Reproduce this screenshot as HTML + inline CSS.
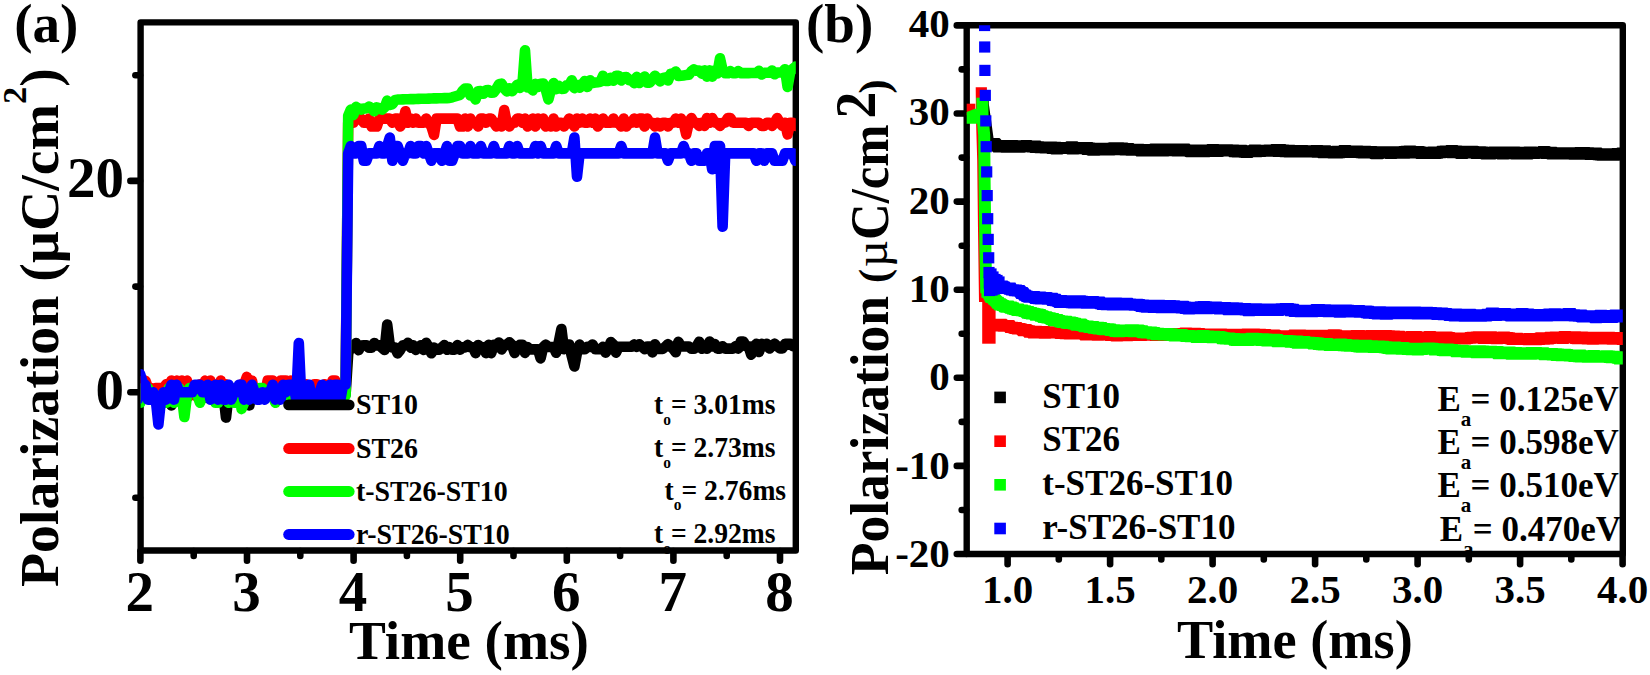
<!DOCTYPE html><html><head><meta charset="utf-8"><title>Polarization vs time</title>
<style>html,body{margin:0;padding:0;background:#fff}svg{display:block}text{font-family:'Liberation Serif',serif;font-weight:bold;fill:#000}</style></head><body>
<svg width="1650" height="675" viewBox="0 0 1650 675">
<rect width="1650" height="675" fill="#fff"/>
<defs><clipPath id="ca"><rect x="140.6" y="22.4" width="655.1999999999999" height="528.1"/></clipPath>
<clipPath id="cb"><rect x="966.7" y="25.3" width="656.0999999999999" height="528.7"/></clipPath></defs>
<rect x="140.6" y="22.4" width="655.2" height="528.1" fill="none" stroke="#000" stroke-width="6.4" stroke-linejoin="round"/>
<line x1="140" y1="392.2" x2="130.4" y2="392.2" stroke="#000" stroke-width="6.6" stroke-linecap="round"/>
<line x1="140" y1="180.9" x2="130.4" y2="180.9" stroke="#000" stroke-width="6.6" stroke-linecap="round"/>
<line x1="140" y1="497.8" x2="135.4" y2="497.8" stroke="#000" stroke-width="6.6" stroke-linecap="round"/>
<line x1="140" y1="286.6" x2="135.4" y2="286.6" stroke="#000" stroke-width="6.6" stroke-linecap="round"/>
<line x1="140" y1="75.2" x2="135.4" y2="75.2" stroke="#000" stroke-width="6.6" stroke-linecap="round"/>
<line x1="140.4" y1="551.1" x2="140.4" y2="560.7" stroke="#000" stroke-width="6.6" stroke-linecap="round"/>
<line x1="247" y1="551.1" x2="247" y2="560.7" stroke="#000" stroke-width="6.6" stroke-linecap="round"/>
<line x1="353.6" y1="551.1" x2="353.6" y2="560.7" stroke="#000" stroke-width="6.6" stroke-linecap="round"/>
<line x1="460.2" y1="551.1" x2="460.2" y2="560.7" stroke="#000" stroke-width="6.6" stroke-linecap="round"/>
<line x1="566.8" y1="551.1" x2="566.8" y2="560.7" stroke="#000" stroke-width="6.6" stroke-linecap="round"/>
<line x1="673.4" y1="551.1" x2="673.4" y2="560.7" stroke="#000" stroke-width="6.6" stroke-linecap="round"/>
<line x1="780" y1="551.1" x2="780" y2="560.7" stroke="#000" stroke-width="6.6" stroke-linecap="round"/>
<line x1="193.7" y1="551.1" x2="193.7" y2="556" stroke="#000" stroke-width="6.6" stroke-linecap="round"/>
<line x1="300.3" y1="551.1" x2="300.3" y2="556" stroke="#000" stroke-width="6.6" stroke-linecap="round"/>
<line x1="406.9" y1="551.1" x2="406.9" y2="556" stroke="#000" stroke-width="6.6" stroke-linecap="round"/>
<line x1="513.5" y1="551.1" x2="513.5" y2="556" stroke="#000" stroke-width="6.6" stroke-linecap="round"/>
<line x1="620.1" y1="551.1" x2="620.1" y2="556" stroke="#000" stroke-width="6.6" stroke-linecap="round"/>
<line x1="726.7" y1="551.1" x2="726.7" y2="556" stroke="#000" stroke-width="6.6" stroke-linecap="round"/>
<g clip-path="url(#ca)">
<polyline points="137.6,390.6 140.2,398 142.8,398 145.4,394.3 148,394.3 150.6,398 153.2,394.3 155.8,398 158.4,398 161,394.3 163.6,394.3 166.2,394.3 168.8,394.3 171.4,405.4 174,390.6 176.6,390.6 179.2,398 181.8,398 184.4,390.6 187,398 189.6,394.3 192.2,394.3 194.8,390.6 197.4,394.3 200,394.3 202.6,390.6 205.2,394.3 207.8,398 210.4,390.6 213,390.6 215.6,394.3 218.2,394.3 220.8,394.3 223.4,394.3 226,417.6 228.6,394.3 231.2,394.3 233.8,394.3 236.4,398 239,394.3 241.6,394.3 244.2,398 246.8,390.6 249.4,405.4 252,390.6 254.6,390.6 257.2,394.3 259.8,390.6 262.4,390.6 265,398 267.6,394.3 270.2,390.6 272.8,394.3 275.4,394.3 278,394.3 280.6,394.3 283.2,398 285.8,394.3 288.4,398 291,390.6 293.6,390.6 296.2,390.6 298.8,390.6 301.4,394.3 304,394.3 306.6,394.3 309.2,394.3 311.8,394.3 314.4,398 317,394.3 319.6,390.6 322.2,394.3 324.8,398 327.4,390.6 330,394.3 332.6,398 335.2,398 337.8,398 340.4,390.6 343,394.3 345.6,394.3 348.2,353.6 350.8,345.5 353.4,347.8 356,343 358.6,350.1 361.2,345.5 363.8,345.4 366.4,345.4 369,347.8 371.6,347.7 374.2,343 376.8,345.4 379.4,345.4 382,347.7 384.6,350 387.2,324.6 389.8,345.3 392.4,347.7 395,347.6 397.6,353.4 400.2,350 402.8,345.3 405.4,345.3 408,342.8 410.6,347.6 413.2,345.3 415.8,349.9 418.4,347.6 421,345.2 423.6,349.9 426.2,342.8 428.8,347.5 431.4,353.3 434,347.5 436.6,349.8 439.2,349.8 441.8,347.5 444.4,345.1 447,349.8 449.6,347.4 452.2,349.7 454.8,349.7 457.4,345.1 460,349.7 462.6,347.4 465.2,347.4 467.8,345 470.4,347.3 473,347.3 475.6,353.1 478.2,345 480.8,347.3 483.4,347.3 486,353.1 488.6,344.9 491.2,353.1 493.8,344.9 496.4,344.9 499,342.5 501.6,349.5 504.2,344.9 506.8,344.9 509.4,342.4 512,344.9 514.6,353 517.2,347.2 519.8,344.8 522.4,344.8 525,352.9 527.6,347.1 530.2,349.4 532.8,349.4 535.4,349.4 538,349.4 540.6,358.4 543.2,347.1 545.8,344.7 548.4,347 551,347 553.6,347 556.2,352.8 558.8,342 561.4,329 564,349.3 566.6,344.6 569.2,344.6 571.8,356.3 574.4,366.5 577,352.7 579.6,344.6 582.2,349.2 584.8,349.2 587.4,346.9 590,346.9 592.6,344.5 595.2,349.2 597.8,349.2 600.4,349.2 603,346.8 605.6,352.6 608.2,349.1 610.8,342 613.4,344.5 616,352.6 618.6,346.8 621.2,346.7 623.8,346.7 626.4,346.7 629,346.7 631.6,346.7 634.2,344.4 636.8,346.7 639.4,344.3 642,346.7 644.6,349 647.2,346.6 649.8,346.6 652.4,352.4 655,344.3 657.6,348.9 660.2,348.9 662.8,348.9 665.4,346.6 668,344.2 670.6,346.5 673.2,348.9 675.8,352.3 678.4,341.8 681,346.5 683.6,346.5 686.2,346.5 688.8,346.5 691.4,348.8 694,348.8 696.6,346.4 699.2,341.7 701.8,348.7 704.4,346.4 707,348.7 709.6,341.6 712.2,346.4 714.8,344 717.4,348.7 720,348.7 722.6,346.3 725.2,348.7 727.8,348.6 730.4,348.6 733,348.6 735.6,346.3 738.2,348.6 740.8,341.5 743.4,341.5 746,346.2 748.6,346.2 751.2,354.7 753.8,346.2 756.4,343.9 759,352 761.6,343.9 764.2,346.2 766.8,343.8 769.4,348.5 772,346.1 774.6,343.8 777.2,346.1 779.8,348.4 782.4,348.4 785,343.8 787.6,343.8 790.2,343.7 792.8,346.1 795.4,346 798,346" fill="none" stroke="#000" stroke-width="10.6" stroke-linejoin="round" stroke-linecap="round" />
<polyline points="137.6,380.6 140.2,388 142.8,395.4 145.4,380.6 148,388 150.6,388 153.2,395.4 155.8,388 158.4,388 161,388 163.6,388 166.2,384.3 168.8,388 171.4,380.6 174,384.3 176.6,380.6 179.2,388 181.8,380.6 184.4,384.3 187,380.6 189.6,395.4 192.2,388 194.8,395.4 197.4,395.4 200,384.3 202.6,395.4 205.2,380.6 207.8,388 210.4,380.6 213,395.4 215.6,388 218.2,388 220.8,380.6 223.4,395.4 226,384.3 228.6,388 231.2,388 233.8,395.4 236.4,395.4 239,395.4 241.6,384.3 244.2,384.3 246.8,376.9 249.4,395.4 252,380.6 254.6,395.4 257.2,388 259.8,395.4 262.4,395.4 265,395.4 267.6,380.6 270.2,380.6 272.8,380.6 275.4,388 278,384.3 280.6,380.6 283.2,380.6 285.8,380.6 288.4,395.4 291,380.6 293.6,384.3 296.2,384.3 298.8,380.6 301.4,388 304,395.4 306.6,384.3 309.2,388 311.8,395.4 314.4,384.3 317,384.3 319.6,388 322.2,388 324.8,384.3 327.4,388 330,388 332.6,380.6 335.2,380.6 337.8,395.4 340.4,388 343,384.3 345.6,388 348.2,122.8 350.8,118.6 353.4,122.8 356,118.6 358.6,118.6 361.2,118.6 363.8,122.8 366.4,122.8 369,118.6 371.6,126.5 374.2,126.5 376.8,126.5 379.4,118.6 382,118.6 384.6,118.6 387.2,118.6 389.8,118.6 392.4,122.8 395,118.6 397.6,118.6 400.2,126.5 402.8,122.8 405.4,111.2 408,122.8 410.6,118.6 413.2,122.8 415.8,118.6 418.4,122.8 421,122.8 423.6,122.8 426.2,118.6 428.8,122.8 431.4,126.5 434,134.9 436.6,118.6 439.2,118.6 441.8,118.6 444.4,118.6 447,118.6 449.6,118.6 452.2,118.6 454.8,118.6 457.4,118.6 460,126.5 462.6,126.5 465.2,118.6 467.8,126.5 470.4,118.6 473,122.8 475.6,122.8 478.2,126.5 480.8,118.6 483.4,118.6 486,122.8 488.6,118.6 491.2,118.6 493.8,122.8 496.4,126.5 499,122.8 501.6,126.5 504.2,110.1 506.8,122.8 509.4,126.5 512,122.8 514.6,122.8 517.2,118.6 519.8,118.6 522.4,122.8 525,118.6 527.6,126.5 530.2,122.8 532.8,118.6 535.4,126.5 538,118.6 540.6,122.8 543.2,118.6 545.8,126.5 548.4,122.8 551,126.5 553.6,118.6 556.2,126.5 558.8,122.8 561.4,122.8 564,126.5 566.6,122.8 569.2,118.6 571.8,122.8 574.4,126.5 577,118.6 579.6,122.8 582.2,118.6 584.8,122.8 587.4,122.8 590,118.6 592.6,122.8 595.2,118.6 597.8,126.5 600.4,122.8 603,118.6 605.6,122.8 608.2,122.8 610.8,122.8 613.4,118.6 616,122.8 618.6,122.8 621.2,126.5 623.8,118.6 626.4,126.5 629,122.8 631.6,122.8 634.2,118.6 636.8,122.8 639.4,118.6 642,118.6 644.6,126.5 647.2,118.6 649.8,122.8 652.4,122.8 655,126.5 657.6,122.8 660.2,126.5 662.8,122.8 665.4,122.8 668,126.5 670.6,122.8 673.2,122.8 675.8,118.6 678.4,122.8 681,118.6 683.6,122.8 686.2,134.4 688.8,122.8 691.4,118 694,122.8 696.6,122.8 699.2,126 701.8,122.8 704.4,126 707,118 709.6,122.8 712.2,118 714.8,122.8 717.4,122.8 720,126 722.6,122.8 725.2,122.8 727.8,118 730.4,118 733,122.8 735.6,122.8 738.2,122.8 740.8,122.8 743.4,122.8 746,122.8 748.6,126 751.2,122.8 753.8,122.8 756.4,122.8 759,122.8 761.6,126 764.2,126 766.8,122.8 769.4,122.8 772,126 774.6,122.8 777.2,118 779.8,122.8 782.4,126 785,122.8 787.6,134.4 790.2,122.8 792.8,122.8 795.4,126 798,126" fill="none" stroke="#f00" stroke-width="10.6" stroke-linejoin="round" stroke-linecap="round" />
<polyline points="137.6,388 140.2,402.8 142.8,388 145.4,395.4 148,388 150.6,395.4 153.2,395.4 155.8,402.8 158.4,402.8 161,395.4 163.6,402.8 166.2,402.8 168.8,388 171.4,395.4 174,402.8 176.6,395.4 179.2,388 181.8,395.4 184.4,417 187,395.4 189.6,388 192.2,388 194.8,388 197.4,395.4 200,402.8 202.6,395.4 205.2,395.4 207.8,395.4 210.4,395.4 213,388 215.6,402.8 218.2,402.8 220.8,395.4 223.4,395.4 226,395.4 228.6,402.8 231.2,388 233.8,402.8 236.4,402.8 239,388 241.6,409.1 244.2,402.8 246.8,395.4 249.4,395.4 252,388 254.6,388 257.2,395.4 259.8,388 262.4,388 265,395.4 267.6,395.4 270.2,395.4 272.8,395.4 275.4,402.8 278,395.4 280.6,395.4 283.2,395.4 285.8,388 288.4,395.4 291,388 293.6,395.4 296.2,395.4 298.8,402.8 301.4,395.4 304,388 306.6,388 309.2,388 311.8,402.8 314.4,395.4 317,402.8 319.6,402.8 322.2,402.8 324.8,395.4 327.4,402.8 330,388 332.6,402.8 335.2,395.4 337.8,402.8 340.4,402.8 343,395.4 345.6,395.4 348.2,115.8 350.8,109.6 353.4,114.9 356,106.9 358.6,108.5 361.2,109.6 363.8,108.5 366.4,108.4 369,106.7 371.6,108.2 374.2,111.2 376.8,107.4 379.4,108.5 382,109.6 384.6,107.5 387.2,100.6 389.8,104.9 392.4,104.1 395,100.2 397.6,99.5 400.2,99.5 402.8,99.4 405.4,99.3 408,99.2 410.6,99.1 413.2,99.1 415.8,99 418.4,98.9 421,98.8 423.6,98.8 426.2,98.7 428.8,98.6 431.4,98.5 434,98.4 436.6,98.4 439.2,98.3 441.8,98.2 444.4,98.1 447,98.1 449.6,98 452.2,97.3 454.8,96.5 457.4,95.7 460,94.9 462.6,90.9 465.2,88.5 467.8,88.5 470.4,95.4 473,95.1 475.6,99.5 478.2,91.3 480.8,91 483.4,93.8 486,90.3 488.6,90 491.2,92.8 493.8,92.4 496.4,88.9 499,84.2 501.6,83.7 504.2,88.3 506.8,91.4 509.4,88.2 512,91.3 514.6,88.1 517.2,84.8 519.8,87.9 522.4,84.6 525,50.4 527.6,87.5 530.2,87.4 532.8,90.4 535.4,83.9 538,87 540.6,83.7 543.2,83.5 545.8,89.7 548.4,99.5 551,89.5 553.6,83 556.2,89.2 558.8,85.9 561.4,88.9 564,88.7 566.6,85.4 569.2,85.2 571.8,80.3 574.4,88.1 577,84.7 579.6,87.7 582.2,84.4 584.8,81.1 587.4,87 590,80.3 592.6,83 595.2,82.6 597.8,82.2 600.4,81.8 603,75.8 605.6,81 608.2,80.9 610.8,77.7 613.4,80.8 616,75.8 618.6,75.8 621.2,80.5 623.8,77.2 626.4,77.1 629,80.2 631.6,80.1 634.2,83.2 636.8,76.8 639.4,83 642,79.8 644.6,76.5 647.2,82.7 649.8,82.7 652.4,79.2 655,75.7 657.6,78.6 660.2,81.4 662.8,77.9 665.4,77.6 668,80.5 670.6,73.8 673.2,73.5 675.8,71.6 678.4,76 681,75.7 683.6,75.4 686.2,75.1 688.8,74.8 691.4,71.3 694,69.4 696.6,70.7 699.2,70.5 701.8,73.6 704.4,70.4 707,76.7 709.6,70.4 712.2,76.7 714.8,70.3 717.4,73.4 720,58.3 722.6,70.2 725.2,73.3 727.8,73.3 730.4,71.2 733,73.2 735.6,73.2 738.2,71.1 740.8,73.2 743.4,73.1 746,73.1 748.6,73.1 751.2,73 753.8,73 756.4,73 759,70.8 761.6,74.5 764.2,72.8 766.8,72.8 769.4,72.7 772,70.5 774.6,74.2 777.2,72.5 779.8,72.5 782.4,72.4 785,69.2 787.6,86.9 790.2,72.2 792.8,68.9 795.4,66.8 798,68.9" fill="none" stroke="#0f0" stroke-width="10.6" stroke-linejoin="round" stroke-linecap="round" />
<polyline points="137.6,399.6 140.2,374.2 142.8,382.7 145.4,384.8 148,399.6 150.6,399.6 153.2,392.2 155.8,399.6 158.4,424.4 161,399.6 163.6,392.2 166.2,399.6 168.8,392.2 171.4,384.8 174,399.6 176.6,384.8 179.2,392.2 181.8,392.2 184.4,392.2 187,392.2 189.6,392.2 192.2,392.2 194.8,384.8 197.4,384.8 200,384.8 202.6,392.2 205.2,392.2 207.8,384.8 210.4,399.6 213,392.2 215.6,384.8 218.2,399.6 220.8,384.8 223.4,399.6 226,399.6 228.6,384.8 231.2,399.6 233.8,392.2 236.4,392.2 239,384.8 241.6,384.8 244.2,399.6 246.8,392.2 249.4,399.6 252,384.8 254.6,392.2 257.2,399.6 259.8,399.6 262.4,392.2 265,399.6 267.6,392.2 270.2,392.2 272.8,384.8 275.4,399.6 278,392.2 280.6,399.6 283.2,384.8 285.8,392.2 288.4,384.8 291,384.8 293.6,384.8 296.2,399.6 298.8,343.1 301.4,399.6 304,392.2 306.6,399.6 309.2,384.8 311.8,399.6 314.4,399.6 317,399.6 319.6,392.2 322.2,384.8 324.8,399.6 327.4,399.6 330,384.8 332.6,399.6 335.2,384.8 337.8,384.8 340.4,399.6 343,384.8 345.6,384.8 348.2,153.4 350.8,146 353.4,153.4 356,153.4 358.6,146 361.2,146 363.8,160.8 366.4,160.8 369,153.4 371.6,153.4 374.2,153.4 376.8,153.4 379.4,146 382,153.4 384.6,153.4 387.2,146 389.8,137.6 392.4,160.8 395,146 397.6,146 400.2,153.4 402.8,160.8 405.4,153.4 408,153.4 410.6,146 413.2,153.4 415.8,153.4 418.4,146 421,146 423.6,153.4 426.2,146 428.8,153.4 431.4,160.8 434,153.4 436.6,153.4 439.2,153.4 441.8,160.8 444.4,153.4 447,146 449.6,160.8 452.2,160.8 454.8,153.4 457.4,146 460,146 462.6,153.4 465.2,153.4 467.8,153.4 470.4,146 473,153.4 475.6,153.4 478.2,153.4 480.8,146 483.4,153.4 486,153.4 488.6,153.4 491.2,153.4 493.8,146 496.4,153.4 499,153.4 501.6,153.4 504.2,153.4 506.8,153.4 509.4,146 512,153.4 514.6,153.4 517.2,146 519.8,153.4 522.4,153.4 525,153.4 527.6,153.4 530.2,153.4 532.8,153.4 535.4,146 538,153.4 540.6,146 543.2,153.4 545.8,153.4 548.4,153.4 551,153.4 553.6,153.4 556.2,146 558.8,153.4 561.4,153.4 564,153.4 566.6,153.4 569.2,153.4 571.8,153.4 574.4,137.6 577,176.7 579.6,153.4 582.2,153.4 584.8,153.4 587.4,153.4 590,153.4 592.6,153.4 595.2,153.4 597.8,153.4 600.4,153.4 603,153.4 605.6,153.4 608.2,153.4 610.8,153.4 613.4,153.4 616,153.4 618.6,153.4 621.2,146 623.8,153.4 626.4,153.4 629,153.4 631.6,153.4 634.2,153.4 636.8,153.4 639.4,153.4 642,153.4 644.6,153.4 647.2,153.4 649.8,153.4 652.4,153.4 655,137.6 657.6,153.4 660.2,153.4 662.8,153.4 665.4,153.4 668,160.8 670.6,153.4 673.2,153.4 675.8,153.4 678.4,153.4 681,153.4 683.6,146 686.2,153.4 688.8,153.4 691.4,160.8 694,153.4 696.6,153.4 699.2,160.8 701.8,160.8 704.4,160.8 707,153.4 709.6,153.4 712.2,169.3 714.8,146 717.4,146 720,146 722.6,226.8 725.2,153.4 727.8,153.4 730.4,153.4 733,153.4 735.6,153.4 738.2,153.4 740.8,153.4 743.4,153.4 746,153.4 748.6,153.4 751.2,153.4 753.8,153.4 756.4,160.8 759,153.4 761.6,153.4 764.2,160.8 766.8,153.4 769.4,153.4 772,153.4 774.6,160.8 777.2,160.8 779.8,160.8 782.4,160.8 785,153.4 787.6,153.4 790.2,153.4 792.8,153.4 795.4,160.8 798,153.4" fill="none" stroke="#00f" stroke-width="10.6" stroke-linejoin="round" stroke-linecap="round" />
</g>
<line x1="288.6" y1="404.9" x2="349.2" y2="404.9" stroke="#000" stroke-width="10.8" stroke-linecap="round"/>
<line x1="288.6" y1="448.5" x2="349.2" y2="448.5" stroke="#f00" stroke-width="10.8" stroke-linecap="round"/>
<line x1="288.6" y1="491.5" x2="349.2" y2="491.5" stroke="#0f0" stroke-width="10.8" stroke-linecap="round"/>
<line x1="288.6" y1="534.5" x2="349.2" y2="534.5" stroke="#00f" stroke-width="10.8" stroke-linecap="round"/>
<text transform="translate(355.9,414.4) scale(0.952,1)" font-size="29.3" text-anchor="start" >ST10</text>
<text transform="translate(355.9,457.8) scale(0.952,1)" font-size="29.3" text-anchor="start" >ST26</text>
<text transform="translate(355.9,500.8) scale(0.952,1)" font-size="29.3" text-anchor="start" >t-ST26-ST10</text>
<text transform="translate(355.9,544) scale(0.952,1)" font-size="29.3" text-anchor="start" >r-ST26-ST10</text>
<text transform="translate(654,414) scale(0.962,1)" font-size="28.7">t<tspan font-size="16" dy="10.5">o</tspan><tspan dy="-10.5">= 3.01ms</tspan></text>
<text transform="translate(654,457) scale(0.962,1)" font-size="28.7">t<tspan font-size="16" dy="10.5">o</tspan><tspan dy="-10.5">= 2.73ms</tspan></text>
<text transform="translate(664.6,499.9) scale(0.962,1)" font-size="28.7">t<tspan font-size="16" dy="10.5">o</tspan><tspan dy="-10.5">= 2.76ms</tspan></text>
<text transform="translate(654,543.2) scale(0.962,1)" font-size="28.7">t<tspan font-size="16" dy="10.5">o</tspan><tspan dy="-10.5">= 2.92ms</tspan></text>
<text x="139.8" y="611.4" font-size="57.0" text-anchor="middle" >2</text>
<text x="246.4" y="611.4" font-size="57.0" text-anchor="middle" >3</text>
<text x="353" y="611.4" font-size="57.0" text-anchor="middle" >4</text>
<text x="459.6" y="611.4" font-size="57.0" text-anchor="middle" >5</text>
<text x="566.2" y="611.4" font-size="57.0" text-anchor="middle" >6</text>
<text x="672.8" y="611.4" font-size="57.0" text-anchor="middle" >7</text>
<text x="779.4" y="611.4" font-size="57.0" text-anchor="middle" >8</text>
<text x="124" y="196.9" font-size="57.0" text-anchor="end" >20</text>
<text x="124" y="408.6" font-size="57.0" text-anchor="end" >0</text>
<text x="348.9" y="659" font-size="55.3" text-anchor="start" >Time (ms)</text>
<text x="14.3" y="42.1" font-size="55" text-anchor="start" >(a)</text>
<text transform="translate(58.4,587.1) rotate(-90)" font-size="55.8">Polarization (µC/cm<tspan font-size="34.5" dy="-32">2</tspan><tspan dy="32">)</tspan></text>
<rect x="966.7" y="25.3" width="656.1" height="528.7" fill="none" stroke="#000" stroke-width="6.4" stroke-linejoin="round"/>
<line x1="966.1" y1="554" x2="956.8" y2="554" stroke="#000" stroke-width="6.6" stroke-linecap="round"/>
<line x1="966.1" y1="465.9" x2="956.8" y2="465.9" stroke="#000" stroke-width="6.6" stroke-linecap="round"/>
<line x1="966.1" y1="377.8" x2="956.8" y2="377.8" stroke="#000" stroke-width="6.6" stroke-linecap="round"/>
<line x1="966.1" y1="289.7" x2="956.8" y2="289.7" stroke="#000" stroke-width="6.6" stroke-linecap="round"/>
<line x1="966.1" y1="201.6" x2="956.8" y2="201.6" stroke="#000" stroke-width="6.6" stroke-linecap="round"/>
<line x1="966.1" y1="113.5" x2="956.8" y2="113.5" stroke="#000" stroke-width="6.6" stroke-linecap="round"/>
<line x1="966.1" y1="25.4" x2="956.8" y2="25.4" stroke="#000" stroke-width="6.6" stroke-linecap="round"/>
<line x1="966.1" y1="510" x2="961.7" y2="510" stroke="#000" stroke-width="6.6" stroke-linecap="round"/>
<line x1="966.1" y1="421.9" x2="961.7" y2="421.9" stroke="#000" stroke-width="6.6" stroke-linecap="round"/>
<line x1="966.1" y1="333.8" x2="961.7" y2="333.8" stroke="#000" stroke-width="6.6" stroke-linecap="round"/>
<line x1="966.1" y1="245.7" x2="961.7" y2="245.7" stroke="#000" stroke-width="6.6" stroke-linecap="round"/>
<line x1="966.1" y1="157.6" x2="961.7" y2="157.6" stroke="#000" stroke-width="6.6" stroke-linecap="round"/>
<line x1="966.1" y1="69.4" x2="961.7" y2="69.4" stroke="#000" stroke-width="6.6" stroke-linecap="round"/>
<line x1="1007.6" y1="554.6" x2="1007.6" y2="564.2" stroke="#000" stroke-width="6.6" stroke-linecap="round"/>
<line x1="1110.1" y1="554.6" x2="1110.1" y2="564.2" stroke="#000" stroke-width="6.6" stroke-linecap="round"/>
<line x1="1212.6" y1="554.6" x2="1212.6" y2="564.2" stroke="#000" stroke-width="6.6" stroke-linecap="round"/>
<line x1="1315.1" y1="554.6" x2="1315.1" y2="564.2" stroke="#000" stroke-width="6.6" stroke-linecap="round"/>
<line x1="1417.6" y1="554.6" x2="1417.6" y2="564.2" stroke="#000" stroke-width="6.6" stroke-linecap="round"/>
<line x1="1520.1" y1="554.6" x2="1520.1" y2="564.2" stroke="#000" stroke-width="6.6" stroke-linecap="round"/>
<line x1="1622.6" y1="554.6" x2="1622.6" y2="564.2" stroke="#000" stroke-width="6.6" stroke-linecap="round"/>
<line x1="1058.8" y1="554.6" x2="1058.8" y2="559.4" stroke="#000" stroke-width="6.6" stroke-linecap="round"/>
<line x1="1161.3" y1="554.6" x2="1161.3" y2="559.4" stroke="#000" stroke-width="6.6" stroke-linecap="round"/>
<line x1="1263.8" y1="554.6" x2="1263.8" y2="559.4" stroke="#000" stroke-width="6.6" stroke-linecap="round"/>
<line x1="1366.3" y1="554.6" x2="1366.3" y2="559.4" stroke="#000" stroke-width="6.6" stroke-linecap="round"/>
<line x1="1468.8" y1="554.6" x2="1468.8" y2="559.4" stroke="#000" stroke-width="6.6" stroke-linecap="round"/>
<line x1="1571.3" y1="554.6" x2="1571.3" y2="559.4" stroke="#000" stroke-width="6.6" stroke-linecap="round"/>
<g clip-path="url(#cb)">
<polyline points="983.2,100 983.2,104 988.3,141 988.6,148" fill="none" stroke="#000" stroke-width="11.2" stroke-linejoin="miter"/>
<polygon points="987.4,138.3 988.4,138.3 989.4,137.9 990.4,137.9 991.4,137.9 992.4,137.9 993.4,137.9 994.4,137.9 995.4,137.9 996.4,137.9 997.4,137.9 998.4,137.9 999.4,137.9 1000.4,138.8 1001.4,140 1002.4,140 1003.4,140 1004.4,140 1005.4,140 1006.4,140 1007.4,140 1008.4,140 1009.4,140 1010.4,140 1011.4,140 1012.4,140 1013.4,140 1014.4,140 1015.4,140 1016.4,140 1017.4,140 1018.4,140.2 1019.4,140.2 1020.4,140.2 1021.4,140 1022.4,140 1023.4,140 1024.4,140 1025.4,140 1026.4,140 1027.4,140 1028.4,140 1029.4,140 1030.4,140 1031.4,140 1032.4,140.6 1033.4,140.6 1034.4,140.6 1035.4,140.6 1036.4,140.6 1037.4,140.6 1038.4,140.6 1039.4,140.6 1040.4,140.6 1041.4,141.2 1042.4,141.2 1043.4,141.2 1044.4,141.4 1045.4,141.4 1046.4,141.4 1047.4,141.4 1048.4,141.4 1049.4,141.4 1050.4,141.4 1051.4,141.4 1052.4,141.4 1053.4,141.4 1054.4,141.4 1055.4,141.4 1056.4,141.4 1057.4,141.8 1058.4,141.8 1059.4,141.8 1060.4,141.8 1061.4,141.9 1062.4,141.9 1063.4,141.9 1064.4,142 1065.4,142 1066.4,141.3 1067.4,141.3 1068.4,141.3 1069.4,141.3 1070.4,141.3 1071.4,141.3 1072.4,141.3 1073.4,141.3 1074.4,141.3 1075.4,141.3 1076.4,141.3 1077.4,141.3 1078.4,141.9 1079.4,141.9 1080.4,141.9 1081.4,141.9 1082.4,141.9 1083.4,141.9 1084.4,141.9 1085.4,141.9 1086.4,141.9 1087.4,141.9 1088.4,141.9 1089.4,141.9 1090.4,142 1091.4,142 1092.4,142 1093.4,142.6 1094.4,142.6 1095.4,142.7 1096.4,142.7 1097.4,142.7 1098.4,142.8 1099.4,142.8 1100.4,142.8 1101.4,142.8 1102.4,142.8 1103.4,142.8 1104.4,142.7 1105.4,142.7 1106.4,142.7 1107.4,142.7 1108.4,142.5 1109.4,142.3 1110.4,142.3 1111.4,142.3 1112.4,142.3 1113.4,142.3 1114.4,142.3 1115.4,142.3 1116.4,142.3 1117.4,142.3 1118.4,142.3 1119.4,142.3 1120.4,142.3 1121.4,142.3 1122.4,142.3 1123.4,142.3 1124.4,142.5 1125.4,142.5 1126.4,142.5 1127.4,142.5 1128.4,143 1129.4,143 1130.4,143.1 1131.4,143.1 1132.4,143.1 1133.4,143.1 1134.4,143.8 1135.4,143.8 1136.4,143.8 1137.4,143.8 1138.4,143.8 1139.4,143.8 1140.4,143.8 1141.4,143.8 1142.4,143.8 1143.4,143.8 1144.4,143.9 1145.4,143.9 1146.4,143.9 1147.4,143.9 1148.4,143.9 1149.4,143.9 1150.4,143.6 1151.4,143.6 1152.4,143.6 1153.4,143.6 1154.4,143.6 1155.4,143.6 1156.4,143.6 1157.4,143.6 1158.4,143.6 1159.4,143.6 1160.4,143.6 1161.4,143.6 1162.4,143.6 1163.4,143.6 1164.4,143.6 1165.4,143.6 1166.4,143.6 1167.4,143.6 1168.4,143.6 1169.4,143.6 1170.4,143.6 1171.4,143.6 1172.4,143.6 1173.4,143.6 1174.4,143.6 1175.4,143.6 1176.4,143.4 1177.4,143.4 1178.4,143.4 1179.4,143.4 1180.4,143.4 1181.4,143.4 1182.4,143.4 1183.4,143.4 1184.4,143.4 1185.4,143.4 1186.4,143.4 1187.4,143.4 1188.4,143.4 1189.4,143.4 1190.4,144.4 1191.4,144.4 1192.4,144.4 1193.4,144.5 1194.4,144.5 1195.4,144.5 1196.4,144.5 1197.4,144.5 1198.4,144.5 1199.4,144.5 1200.4,144.5 1201.4,144.5 1202.4,144.5 1203.4,144.5 1204.4,144.6 1205.4,144.6 1206.4,144.6 1207.4,144.1 1208.4,144.1 1209.4,144.1 1210.4,144.1 1211.4,144.1 1212.4,144.1 1213.4,144.1 1214.4,144.1 1215.4,144.1 1216.4,144.1 1217.4,144.1 1218.4,144.1 1219.4,144.2 1220.4,144.2 1221.4,144.2 1222.4,144.2 1223.4,144.2 1224.4,144.2 1225.4,144.2 1226.4,144.2 1227.4,144.2 1228.4,144.2 1229.4,144.2 1230.4,144.2 1231.4,144.2 1232.4,144.2 1233.4,144.5 1234.4,144.5 1235.4,144.5 1236.4,144.5 1237.4,144.5 1238.4,144.5 1239.4,144.7 1240.4,144.7 1241.4,144.7 1242.4,144.7 1243.4,144.7 1244.4,144.7 1245.4,144.7 1246.4,144.7 1247.4,145.2 1248.4,145.2 1249.4,144.6 1250.4,144.6 1251.4,144.6 1252.4,144.6 1253.4,144.6 1254.4,144.6 1255.4,144.6 1256.4,144.6 1257.4,144.6 1258.4,144.6 1259.4,144.6 1260.4,144.6 1261.4,144.7 1262.4,144.7 1263.4,144.7 1264.4,144.6 1265.4,144.6 1266.4,144.6 1267.4,144.4 1268.4,144.4 1269.4,144.4 1270.4,144.4 1271.4,144 1272.4,144 1273.4,144 1274.4,144 1275.4,144 1276.4,144 1277.4,144 1278.4,144 1279.4,144 1280.4,144 1281.4,144 1282.4,144 1283.4,144.1 1284.4,144.1 1285.4,144.1 1286.4,144.5 1287.4,144.5 1288.4,144.5 1289.4,144.8 1290.4,144.8 1291.4,144.8 1292.4,144.8 1293.4,144.8 1294.4,144.8 1295.4,145.1 1296.4,145.1 1297.4,145.1 1298.4,145.1 1299.4,145.1 1300.4,145.1 1301.4,145.1 1302.4,145.1 1303.4,145.1 1304.4,145.1 1305.4,145.1 1306.4,145.1 1307.4,145.1 1308.4,145.2 1309.4,145.2 1310.4,145.2 1311.4,145 1312.4,145 1313.4,145 1314.4,145 1315.4,145 1316.4,145 1317.4,145 1318.4,145 1319.4,145 1320.4,145 1321.4,145 1322.4,145 1323.4,145.3 1324.4,145.3 1325.4,145.3 1326.4,145.3 1327.4,145.3 1328.4,145.3 1329.4,145.3 1330.4,145.3 1331.4,146 1332.4,145.7 1333.4,145.7 1334.4,145.7 1335.4,145.7 1336.4,145.7 1337.4,145.7 1338.4,145.7 1339.4,145.1 1340.4,145.1 1341.4,145.1 1342.4,145.1 1343.4,145.1 1344.4,145.1 1345.4,145.1 1346.4,145.1 1347.4,145.1 1348.4,145.1 1349.4,145.1 1350.4,145.1 1351.4,145.4 1352.4,145.4 1353.4,145.4 1354.4,145.4 1355.4,145.4 1356.4,145.4 1357.4,145.4 1358.4,145.4 1359.4,145.4 1360.4,145.4 1361.4,145.4 1362.4,145.4 1363.4,145.8 1364.4,145.8 1365.4,145.8 1366.4,145.8 1367.4,145.8 1368.4,145.8 1369.4,145.8 1370.4,145.8 1371.4,146 1372.4,146.1 1373.4,146.1 1374.4,146.1 1375.4,146.1 1376.4,146.1 1377.4,146.2 1378.4,146.2 1379.4,146.2 1380.4,146.2 1381.4,146.2 1382.4,146.2 1383.4,146.2 1384.4,146.2 1385.4,146.2 1386.4,146.2 1387.4,146.2 1388.4,146.3 1389.4,146.3 1390.4,146.3 1391.4,146.2 1392.4,146.2 1393.4,146.2 1394.4,146.2 1395.4,146.2 1396.4,146.2 1397.4,146.2 1398.4,146.2 1399.4,145.9 1400.4,145.9 1401.4,145.8 1402.4,145.8 1403.4,145.8 1404.4,145.6 1405.4,145.6 1406.4,145.6 1407.4,145.6 1408.4,145.6 1409.4,145.6 1410.4,145.6 1411.4,145.6 1412.4,145.6 1413.4,145.6 1414.4,145.6 1415.4,145.6 1416.4,146.1 1417.4,146.1 1418.4,146.1 1419.4,146.1 1420.4,146.1 1421.4,146.1 1422.4,146.1 1423.4,146.1 1424.4,146.2 1425.4,146.5 1426.4,146.7 1427.4,146.7 1428.4,146.4 1429.4,146.4 1430.4,146.4 1431.4,146.4 1432.4,146.4 1433.4,146.4 1434.4,146.4 1435.4,146.4 1436.4,146.4 1437.4,145.7 1438.4,145.7 1439.4,145.7 1440.4,145.4 1441.4,145.4 1442.4,145.4 1443.4,145.4 1444.4,145.4 1445.4,145.4 1446.4,145.1 1447.4,145.1 1448.4,145.1 1449.4,145.1 1450.4,145.1 1451.4,145.1 1452.4,145.1 1453.4,145.1 1454.4,145.1 1455.4,145.1 1456.4,145.1 1457.4,145.1 1458.4,145.6 1459.4,145.6 1460.4,145.6 1461.4,145.6 1462.4,145.7 1463.4,145.8 1464.4,145.8 1465.4,145.8 1466.4,145.7 1467.4,145.7 1468.4,145.7 1469.4,145.7 1470.4,145.7 1471.4,145.7 1472.4,145.7 1473.4,145.7 1474.4,145.7 1475.4,145.7 1476.4,145.7 1477.4,145.7 1478.4,146 1479.4,146.2 1480.4,146.2 1481.4,146.2 1482.4,146.2 1483.4,146.2 1484.4,146.2 1485.4,146.2 1486.4,146.4 1487.4,146.4 1488.4,146.7 1489.4,146.6 1490.4,146.6 1491.4,146.6 1492.4,146.6 1493.4,146.6 1494.4,146.6 1495.4,146.6 1496.4,146.6 1497.4,146.6 1498.4,146.6 1499.4,146.6 1500.4,146.6 1501.4,146.6 1502.4,146.6 1503.4,146.6 1504.4,146.6 1505.4,146.6 1506.4,146.6 1507.4,146.6 1508.4,146.6 1509.4,146.6 1510.4,146.6 1511.4,146.6 1512.4,146.6 1513.4,146.6 1514.4,146.6 1515.4,146.6 1516.4,146.6 1517.4,146.6 1518.4,146.6 1519.4,146.6 1520.4,146.7 1521.4,146.7 1522.4,146.7 1523.4,146.7 1524.4,146.4 1525.4,146.4 1526.4,146.4 1527.4,146.4 1528.4,146.4 1529.4,146.4 1530.4,146.4 1531.4,146.4 1532.4,146.4 1533.4,146.4 1534.4,146.4 1535.4,146.4 1536.4,146.5 1537.4,146.7 1538.4,146.1 1539.4,146.1 1540.4,146.1 1541.4,146.1 1542.4,146.1 1543.4,146.1 1544.4,146.1 1545.4,146.1 1546.4,146.1 1547.4,146.1 1548.4,146.1 1549.4,146.1 1550.4,146.4 1551.4,146.8 1552.4,146.8 1553.4,146.8 1554.4,146.8 1555.4,146.8 1556.4,146.8 1557.4,147.2 1558.4,147.2 1559.4,147.2 1560.4,147.2 1561.4,147.2 1562.4,147.2 1563.4,147.2 1564.4,147.2 1565.4,147.2 1566.4,147.2 1567.4,147.2 1568.4,147.2 1569.4,147.2 1570.4,147.2 1571.4,147.2 1572.4,147.2 1573.4,147.2 1574.4,147.2 1575.4,147 1576.4,147 1577.4,147 1578.4,147 1579.4,147 1580.4,147 1581.4,147 1582.4,147 1583.4,147 1584.4,147 1585.4,147 1586.4,147 1587.4,147 1588.4,147 1589.4,147 1590.4,147.2 1591.4,147.2 1592.4,147.2 1593.4,147.2 1594.4,147.6 1595.4,147.6 1596.4,147.6 1597.4,147.6 1598.4,147.6 1599.4,147.6 1600.4,147.6 1601.4,147.6 1602.4,148.2 1603.4,148.2 1604.4,148.2 1605.4,148.2 1606.4,148.2 1607.4,148.2 1608.4,148.3 1609.4,148.2 1610.4,148.2 1611.4,148.2 1612.4,148.1 1613.4,147.9 1614.4,147.9 1615.4,147.9 1616.4,147.9 1617.4,147.6 1618.4,147.6 1619.4,147.6 1620.4,147.5 1621.4,147.5 1622.4,147.5 1623.4,147.5 1624.4,147.5 1625.4,147.5 1626.4,147.5 1627.4,147.5 1628.4,147.5 1629.4,147.5 1630.4,147.5 1631.4,147.5 1632.4,148.4 1633.4,148.6 1634.4,148.6 1634.4,159.8 1633.4,159.8 1632.4,159.8 1631.4,159.8 1630.4,160 1629.4,160 1628.4,160 1627.4,160 1626.4,160 1625.4,160 1624.4,160 1623.4,160 1622.4,160 1621.4,160.3 1620.4,160.3 1619.4,160.7 1618.4,160.7 1617.4,160.7 1616.4,160.7 1615.4,160.7 1614.4,160.7 1613.4,160.7 1612.4,160.7 1611.4,160.7 1610.4,160.7 1609.4,160.7 1608.4,160.7 1607.4,160.7 1606.4,160.7 1605.4,160.7 1604.4,160.7 1603.4,160.7 1602.4,160.7 1601.4,160.7 1600.4,160.7 1599.4,160.7 1598.4,160.7 1597.4,160.7 1596.4,160.4 1595.4,160.4 1594.4,160.3 1593.4,160.3 1592.4,160.1 1591.4,160.1 1590.4,160.1 1589.4,160.1 1588.4,160.1 1587.4,160.1 1586.4,160.1 1585.4,160.1 1584.4,159.8 1583.4,159.8 1582.4,159.8 1581.4,159.8 1580.4,159.8 1579.4,159.8 1578.4,159.8 1577.4,159.8 1576.4,159.8 1575.4,159.7 1574.4,159.7 1573.4,159.7 1572.4,159.7 1571.4,159.7 1570.4,159.7 1569.4,159.7 1568.4,159.5 1567.4,159.5 1566.4,159.5 1565.4,159.5 1564.4,159.5 1563.4,159.5 1562.4,159.5 1561.4,159.5 1560.4,159.5 1559.4,159.5 1558.4,159.5 1557.4,159.5 1556.4,159.5 1555.4,159.5 1554.4,159.5 1553.4,159.5 1552.4,159.5 1551.4,159.4 1550.4,159.4 1549.4,159.4 1548.4,159.4 1547.4,159.4 1546.4,159.1 1545.4,159.1 1544.4,159.1 1543.4,159.1 1542.4,159.1 1541.4,159.1 1540.4,158.8 1539.4,159 1538.4,159 1537.4,159.1 1536.4,159.1 1535.4,159.1 1534.4,159.1 1533.4,159.1 1532.4,159.4 1531.4,159.4 1530.4,159.4 1529.4,159.4 1528.4,159.4 1527.4,159.4 1526.4,159.4 1525.4,159.4 1524.4,159.4 1523.4,159.4 1522.4,159.4 1521.4,159.4 1520.4,159.4 1519.4,159.4 1518.4,159.4 1517.4,159.4 1516.4,159.4 1515.4,159.4 1514.4,159.4 1513.4,159.4 1512.4,159.4 1511.4,159.4 1510.4,159.3 1509.4,159.3 1508.4,159.6 1507.4,159.6 1506.4,159.6 1505.4,159.6 1504.4,159.6 1503.4,159.6 1502.4,159.6 1501.4,159.6 1500.4,159.6 1499.4,159.6 1498.4,159.6 1497.4,159.6 1496.4,159.1 1495.4,159.4 1494.4,159.4 1493.4,159.4 1492.4,159.4 1491.4,159.4 1490.4,159.4 1489.4,159.4 1488.4,159.4 1487.4,159.4 1486.4,159.4 1485.4,159.4 1484.4,159.4 1483.4,159.4 1482.4,159.4 1481.4,159.4 1480.4,159.1 1479.4,159 1478.4,159 1477.4,158.9 1476.4,158.9 1475.4,158.9 1474.4,158.9 1473.4,158.9 1472.4,158.9 1471.4,158.9 1470.4,158.6 1469.4,158.6 1468.4,158.6 1467.4,158.9 1466.4,158.9 1465.4,158.9 1464.4,158.9 1463.4,158.9 1462.4,158.9 1461.4,158.9 1460.4,158.9 1459.4,158.9 1458.4,158.9 1457.4,158.9 1456.4,158.9 1455.4,158.6 1454.4,158.2 1453.4,158.2 1452.4,158.2 1451.4,158.2 1450.4,158.2 1449.4,158.2 1448.4,158.2 1447.4,158.2 1446.4,157.9 1445.4,158.2 1444.4,158.2 1443.4,158.2 1442.4,158.7 1441.4,158.7 1440.4,158.9 1439.4,158.9 1438.4,158.9 1437.4,158.9 1436.4,159 1435.4,159 1434.4,159 1433.4,159 1432.4,159 1431.4,159 1430.4,159 1429.4,159 1428.4,159 1427.4,159.1 1426.4,159.1 1425.4,159.1 1424.4,159.1 1423.4,159.1 1422.4,159.1 1421.4,159.1 1420.4,159.1 1419.4,159.1 1418.4,159.1 1417.4,159.1 1416.4,159.1 1415.4,158.4 1414.4,158.4 1413.4,158.4 1412.4,158.4 1411.4,158.4 1410.4,158.4 1409.4,158.7 1408.4,158.7 1407.4,158.7 1406.4,158.7 1405.4,158.7 1404.4,158.7 1403.4,158.7 1402.4,158.7 1401.4,158.7 1400.4,158.7 1399.4,158.8 1398.4,158.8 1397.4,158.8 1396.4,158.9 1395.4,158.9 1394.4,158.9 1393.4,158.9 1392.4,158.9 1391.4,158.9 1390.4,158.9 1389.4,158.9 1388.4,158.9 1387.4,158.9 1386.4,158.9 1385.4,158.9 1384.4,158.4 1383.4,158.9 1382.4,159.2 1381.4,159.2 1380.4,159.2 1379.4,159.2 1378.4,159.2 1377.4,159.2 1376.4,159.2 1375.4,159.2 1374.4,159.2 1373.4,159.2 1372.4,159.2 1371.4,159.2 1370.4,159 1369.4,158.6 1368.4,158.6 1367.4,158.6 1366.4,158.4 1365.4,158.4 1364.4,158.4 1363.4,158.4 1362.4,158.4 1361.4,158.4 1360.4,158.4 1359.4,158.4 1358.4,158.4 1357.4,158.3 1356.4,158.3 1355.4,157.9 1354.4,157.9 1353.4,157.9 1352.4,157.9 1351.4,157.9 1350.4,157.9 1349.4,157.9 1348.4,157.9 1347.4,157.9 1346.4,158 1345.4,158 1344.4,158.2 1343.4,158.2 1342.4,158.6 1341.4,158.6 1340.4,158.6 1339.4,158.6 1338.4,158.6 1337.4,158.6 1336.4,158.6 1335.4,158.6 1334.4,158.6 1333.4,158.6 1332.4,158.6 1331.4,158.6 1330.4,158.5 1329.4,158.5 1328.4,158.5 1327.4,158.2 1326.4,158.2 1325.4,158.2 1324.4,158.2 1323.4,158.2 1322.4,158.2 1321.4,158.2 1320.4,158.2 1319.4,158.2 1318.4,158.2 1317.4,157.8 1316.4,157.8 1315.4,157.7 1314.4,157.7 1313.4,157.7 1312.4,157.7 1311.4,157.4 1310.4,157.4 1309.4,157.4 1308.4,157.6 1307.4,157.6 1306.4,157.6 1305.4,157.6 1304.4,157.6 1303.4,157.6 1302.4,157.6 1301.4,157.6 1300.4,157.6 1299.4,157.6 1298.4,157.6 1297.4,157.6 1296.4,157.6 1295.4,157.6 1294.4,157.6 1293.4,157.6 1292.4,157.6 1291.4,157.6 1290.4,157.6 1289.4,157.6 1288.4,157.6 1287.4,157.6 1286.4,157.6 1285.4,157.4 1284.4,157.4 1283.4,157.3 1282.4,157.3 1281.4,157.3 1280.4,157.2 1279.4,157 1278.4,157 1277.4,156.9 1276.4,156.9 1275.4,156.9 1274.4,156.9 1273.4,156.9 1272.4,156.8 1271.4,156.7 1270.4,156.7 1269.4,156.8 1268.4,156.8 1267.4,156.8 1266.4,156.8 1265.4,157 1264.4,157 1263.4,157 1262.4,157 1261.4,157.3 1260.4,157.3 1259.4,157.3 1258.4,157.3 1257.4,157.3 1256.4,157.3 1255.4,157.3 1254.4,157.3 1253.4,157.3 1252.4,157.9 1251.4,157.9 1250.4,157.9 1249.4,157.9 1248.4,157.9 1247.4,157.9 1246.4,157.9 1245.4,157.9 1244.4,157.9 1243.4,157.9 1242.4,157.9 1241.4,157.9 1240.4,157.8 1239.4,157.8 1238.4,157.4 1237.4,157.4 1236.4,157.4 1235.4,157.4 1234.4,157.4 1233.4,157.4 1232.4,157.4 1231.4,157.2 1230.4,157.2 1229.4,157.2 1228.4,156.6 1227.4,156.6 1226.4,156.6 1225.4,156.6 1224.4,156.6 1223.4,156.8 1222.4,156.9 1221.4,156.9 1220.4,156.9 1219.4,156.9 1218.4,156.9 1217.4,157 1216.4,157 1215.4,157 1214.4,157.1 1213.4,157.1 1212.4,157.1 1211.4,157.1 1210.4,157.1 1209.4,157.3 1208.4,157.3 1207.4,157.3 1206.4,157.3 1205.4,157.3 1204.4,157.3 1203.4,157.3 1202.4,157.3 1201.4,157.3 1200.4,157.3 1199.4,157.3 1198.4,157.3 1197.4,157.2 1196.4,157.2 1195.4,157.2 1194.4,157.2 1193.4,157.2 1192.4,157.2 1191.4,157.2 1190.4,157.2 1189.4,157.2 1188.4,157.2 1187.4,157.2 1186.4,157.2 1185.4,157 1184.4,156.5 1183.4,156.5 1182.4,156.5 1181.4,156.5 1180.4,156.5 1179.4,156.5 1178.4,156.5 1177.4,156.5 1176.4,156.5 1175.4,156.5 1174.4,156.5 1173.4,156.5 1172.4,156.5 1171.4,156.3 1170.4,156.3 1169.4,156.3 1168.4,156.4 1167.4,156.4 1166.4,156.4 1165.4,156.4 1164.4,156.4 1163.4,156.4 1162.4,156.4 1161.4,156.4 1160.4,156.4 1159.4,156.4 1158.4,156.4 1157.4,156.4 1156.4,156.5 1155.4,156.5 1154.4,156.5 1153.4,156.5 1152.4,156.5 1151.4,156.5 1150.4,156.5 1149.4,156.5 1148.4,156.5 1147.4,156.5 1146.4,156.5 1145.4,156.5 1144.4,156.4 1143.4,156.4 1142.4,156.4 1141.4,156.4 1140.4,156.4 1139.4,156.4 1138.4,156.4 1137.4,156.4 1136.4,156.4 1135.4,155.8 1134.4,155.8 1133.4,155.8 1132.4,155.8 1131.4,155.8 1130.4,155.8 1129.4,155.8 1128.4,155.8 1127.4,155.8 1126.4,155.8 1125.4,155.5 1124.4,155.5 1123.4,155.5 1122.4,155.5 1121.4,155.5 1120.4,155.5 1119.4,155.2 1118.4,155.3 1117.4,155.3 1116.4,155.3 1115.4,155.3 1114.4,155.4 1113.4,155.4 1112.4,155.4 1111.4,155.4 1110.4,155.4 1109.4,155.4 1108.4,155.4 1107.4,155.4 1106.4,155.4 1105.4,155.5 1104.4,155.5 1103.4,155.5 1102.4,155.5 1101.4,155.5 1100.4,155.5 1099.4,155.7 1098.4,155.7 1097.4,155.7 1096.4,155.7 1095.4,155.7 1094.4,155.7 1093.4,155.7 1092.4,155.7 1091.4,155.7 1090.4,155.7 1089.4,155.7 1088.4,155.7 1087.4,155.5 1086.4,155 1085.4,155 1084.4,155 1083.4,155 1082.4,155 1081.4,154.3 1080.4,154.3 1079.4,154.3 1078.4,154.4 1077.4,154.4 1076.4,154.4 1075.4,154.4 1074.4,154.4 1073.4,154.4 1072.4,154.4 1071.4,154.4 1070.4,154.4 1069.4,154.4 1068.4,154.4 1067.4,154.4 1066.4,154.1 1065.4,154.1 1064.4,154.1 1063.4,154.1 1062.4,154.4 1061.4,154.4 1060.4,154.4 1059.4,154.4 1058.4,154.4 1057.4,154.4 1056.4,154.4 1055.4,154.4 1054.4,154.4 1053.4,154.4 1052.4,154.4 1051.4,154.4 1050.4,154 1049.4,154 1048.4,154 1047.4,153.9 1046.4,153.6 1045.4,153.6 1044.4,153.6 1043.4,153.6 1042.4,153.6 1041.4,153.6 1040.4,153.6 1039.4,153.3 1038.4,153.3 1037.4,153.3 1036.4,153.3 1035.4,153.2 1034.4,153.1 1033.4,152.9 1032.4,152.9 1031.4,152.9 1030.4,152.9 1029.4,152.6 1028.4,152.6 1027.4,152.6 1026.4,152.3 1025.4,152.5 1024.4,152.8 1023.4,152.8 1022.4,152.8 1021.4,152.8 1020.4,152.8 1019.4,152.8 1018.4,152.8 1017.4,152.8 1016.4,152.8 1015.4,152.8 1014.4,152.8 1013.4,152.8 1012.4,152.8 1011.4,152.8 1010.4,152.8 1009.4,152.8 1008.4,152.7 1007.4,152.7 1006.4,152.7 1005.4,152.7 1004.4,152.7 1003.4,152.7 1002.4,152.7 1001.4,152.7 1000.4,152.6 999.4,152.6 998.4,152.6 997.4,152.6 996.4,152.6 995.4,152.6 994.4,152.4 993.4,152.4 992.4,151.4 991.4,151.3 990.4,150 989.4,149.5 988.4,149.5 987.4,149.5" fill="#000"/>
<rect x="960" y="103.7" width="15.3" height="11.6" fill="#f00"/>
<polyline points="981.3,87.3 981.6,120 982.8,160 983.6,230 984.6,302" fill="none" stroke="#f00" stroke-width="11.2" stroke-linejoin="miter"/>
<rect x="982.2" y="302" width="13.4" height="41.7" fill="#f00"/>
<polygon points="989.4,320.3 990.4,320.3 991.4,319.5 992.4,319.2 993.4,319.2 994.4,318.7 995.4,318.7 996.4,318.7 997.4,318.7 998.4,318.7 999.4,318.7 1000.4,318.7 1001.4,318.7 1002.4,318.7 1003.4,318.7 1004.4,318.7 1005.4,318.7 1006.4,318.7 1007.4,319.7 1008.4,320 1009.4,320 1010.4,320 1011.4,320 1012.4,320 1013.4,320 1014.4,320.3 1015.4,321.7 1016.4,321.7 1017.4,321.7 1018.4,322 1019.4,322 1020.4,322 1021.4,322 1022.4,322.9 1023.4,322.9 1024.4,322.9 1025.4,323.2 1026.4,323.4 1027.4,324 1028.4,324.1 1029.4,324.1 1030.4,324.1 1031.4,324.3 1032.4,325 1033.4,325.2 1034.4,325.3 1035.4,325.7 1036.4,325.7 1037.4,325.7 1038.4,325.7 1039.4,325.7 1040.4,325.7 1041.4,325.7 1042.4,326 1043.4,326 1044.4,326.1 1045.4,326.1 1046.4,326.1 1047.4,326.1 1048.4,326.1 1049.4,326.1 1050.4,326.2 1051.4,326.2 1052.4,326.3 1053.4,326.3 1054.4,326.3 1055.4,326.4 1056.4,326.3 1057.4,326.3 1058.4,326.3 1059.4,326.3 1060.4,326.3 1061.4,326.3 1062.4,326.3 1063.4,326.3 1064.4,326.3 1065.4,326.3 1066.4,326.3 1067.4,326.3 1068.4,326.6 1069.4,326.6 1070.4,326.6 1071.4,326.6 1072.4,326.6 1073.4,326.6 1074.4,326.6 1075.4,326.6 1076.4,326.6 1077.4,326.6 1078.4,326.6 1079.4,326.9 1080.4,327 1081.4,327 1082.4,327 1083.4,327 1084.4,327 1085.4,327 1086.4,327 1087.4,327.4 1088.4,327.4 1089.4,327.4 1090.4,327.4 1091.4,327.4 1092.4,327.4 1093.4,327.4 1094.4,327.4 1095.4,327.8 1096.4,328 1097.4,328 1098.4,327.8 1099.4,327.8 1100.4,327.8 1101.4,327.8 1102.4,327.8 1103.4,327.8 1104.4,327.8 1105.4,327.8 1106.4,327.8 1107.4,327.8 1108.4,327.8 1109.4,327.8 1110.4,327.9 1111.4,327.9 1112.4,328.3 1113.4,328.3 1114.4,328.3 1115.4,328.4 1116.4,328.4 1117.4,328.4 1118.4,328.4 1119.4,328.4 1120.4,328.4 1121.4,328.4 1122.4,328.4 1123.4,328 1124.4,328 1125.4,328 1126.4,328 1127.4,328 1128.4,328 1129.4,328 1130.4,328 1131.4,328 1132.4,328 1133.4,328 1134.4,328 1135.4,328.1 1136.4,328.2 1137.4,328.2 1138.4,328.2 1139.4,328.3 1140.4,328.3 1141.4,328.3 1142.4,328.3 1143.4,328.7 1144.4,328.7 1145.4,328.7 1146.4,328.4 1147.4,328.4 1148.4,328.4 1149.4,328.4 1150.4,328.4 1151.4,328.4 1152.4,328.4 1153.4,328.4 1154.4,328.4 1155.4,328.4 1156.4,328.4 1157.4,328.4 1158.4,328.7 1159.4,328.1 1160.4,328.1 1161.4,328.1 1162.4,328.1 1163.4,328.1 1164.4,328.1 1165.4,328.1 1166.4,328.1 1167.4,328.1 1168.4,328.1 1169.4,328.1 1170.4,328.1 1171.4,328.1 1172.4,328.1 1173.4,328.1 1174.4,328.1 1175.4,328.1 1176.4,328.1 1177.4,328.1 1178.4,328.1 1179.4,328.1 1180.4,327.4 1181.4,327.4 1182.4,327.4 1183.4,327.4 1184.4,327.4 1185.4,327.4 1186.4,327.4 1187.4,327.4 1188.4,327.4 1189.4,327.4 1190.4,327.4 1191.4,327.4 1192.4,327.7 1193.4,327.7 1194.4,327.7 1195.4,327.7 1196.4,327.7 1197.4,327.8 1198.4,327.8 1199.4,327.8 1200.4,327.8 1201.4,328.1 1202.4,328.1 1203.4,328.1 1204.4,328.1 1205.4,328.4 1206.4,328.4 1207.4,328.4 1208.4,328.4 1209.4,328.4 1210.4,328.4 1211.4,328.4 1212.4,328.4 1213.4,328.4 1214.4,328.4 1215.4,328.4 1216.4,328.6 1217.4,328.6 1218.4,328.6 1219.4,328.6 1220.4,328.6 1221.4,328.6 1222.4,328.6 1223.4,328.6 1224.4,328.6 1225.4,328.6 1226.4,328.6 1227.4,328.7 1228.4,328.7 1229.4,328.7 1230.4,328.7 1231.4,328.7 1232.4,328.7 1233.4,328.7 1234.4,328.8 1235.4,328.8 1236.4,328.8 1237.4,328.8 1238.4,328.8 1239.4,328.8 1240.4,328.8 1241.4,328.8 1242.4,328.5 1243.4,328.5 1244.4,328.5 1245.4,328.5 1246.4,328.5 1247.4,328.5 1248.4,328.4 1249.4,328.4 1250.4,328.4 1251.4,328.4 1252.4,328.4 1253.4,328.4 1254.4,328.4 1255.4,328.4 1256.4,328.4 1257.4,328.4 1258.4,328.4 1259.4,328.4 1260.4,328.7 1261.4,328.7 1262.4,328.7 1263.4,328.7 1264.4,328.7 1265.4,328.7 1266.4,328.9 1267.4,328.9 1268.4,328.9 1269.4,328.9 1270.4,328.9 1271.4,329.4 1272.4,329.4 1273.4,329.4 1274.4,329.4 1275.4,329.4 1276.4,329.4 1277.4,329.4 1278.4,329.6 1279.4,329.6 1280.4,330 1281.4,330.2 1282.4,330.2 1283.4,330.2 1284.4,330.2 1285.4,330.3 1286.4,330.3 1287.4,330.3 1288.4,330.3 1289.4,329.6 1290.4,329.6 1291.4,329.6 1292.4,329.6 1293.4,329.6 1294.4,329.5 1295.4,329.5 1296.4,329.5 1297.4,329.5 1298.4,329.5 1299.4,329.5 1300.4,329.5 1301.4,329.5 1302.4,329.5 1303.4,329.5 1304.4,329.5 1305.4,329.5 1306.4,329.8 1307.4,329.8 1308.4,329.8 1309.4,329.8 1310.4,329.8 1311.4,329.8 1312.4,329.8 1313.4,329.8 1314.4,329.8 1315.4,329.8 1316.4,329.8 1317.4,329.8 1318.4,329.8 1319.4,329.8 1320.4,329.8 1321.4,329.8 1322.4,329.8 1323.4,329.8 1324.4,329.8 1325.4,329.8 1326.4,329.7 1327.4,329.7 1328.4,329.3 1329.4,329.3 1330.4,329.3 1331.4,329.3 1332.4,329.3 1333.4,329.3 1334.4,329.3 1335.4,329.3 1336.4,329.3 1337.4,329.3 1338.4,329.3 1339.4,329.3 1340.4,329.6 1341.4,329.6 1342.4,330.2 1343.4,330.2 1344.4,330.2 1345.4,330.2 1346.4,330.2 1347.4,330.2 1348.4,330.2 1349.4,330.2 1350.4,330.2 1351.4,330 1352.4,330 1353.4,330 1354.4,330 1355.4,330 1356.4,330 1357.4,330 1358.4,330 1359.4,330 1360.4,330 1361.4,330 1362.4,330 1363.4,330 1364.4,330 1365.4,330.2 1366.4,329.9 1367.4,329.9 1368.4,329.9 1369.4,329.9 1370.4,329.9 1371.4,329.9 1372.4,329.9 1373.4,329.9 1374.4,329.9 1375.4,329.9 1376.4,329.9 1377.4,329.9 1378.4,329.9 1379.4,329.9 1380.4,330.1 1381.4,330.1 1382.4,330.1 1383.4,330.1 1384.4,330.1 1385.4,330.1 1386.4,330.1 1387.4,330.1 1388.4,330.1 1389.4,330.1 1390.4,330.1 1391.4,330.1 1392.4,330.2 1393.4,330.2 1394.4,330.2 1395.4,330.4 1396.4,330.4 1397.4,330.4 1398.4,330.4 1399.4,330.5 1400.4,330.7 1401.4,330.7 1402.4,330.8 1403.4,330.8 1404.4,330.8 1405.4,331.6 1406.4,331.1 1407.4,331.1 1408.4,331.1 1409.4,331.1 1410.4,331.1 1411.4,331.1 1412.4,331.1 1413.4,331.1 1414.4,331.1 1415.4,331.1 1416.4,331.1 1417.4,331.1 1418.4,331.1 1419.4,331.1 1420.4,331.1 1421.4,331.1 1422.4,331.4 1423.4,331.5 1424.4,331 1425.4,331 1426.4,331 1427.4,331 1428.4,331 1429.4,331 1430.4,331 1431.4,331 1432.4,331 1433.4,331 1434.4,331 1435.4,331 1436.4,331.5 1437.4,331.5 1438.4,331.5 1439.4,331.5 1440.4,331.5 1441.4,331.5 1442.4,331.5 1443.4,331.5 1444.4,331.5 1445.4,331.5 1446.4,331.5 1447.4,331.5 1448.4,331.6 1449.4,331.6 1450.4,331.6 1451.4,331.6 1452.4,331.7 1453.4,331.9 1454.4,332.1 1455.4,332.4 1456.4,332.4 1457.4,332.4 1458.4,332.4 1459.4,332.4 1460.4,332.4 1461.4,332.4 1462.4,332.5 1463.4,332.4 1464.4,332.4 1465.4,331.9 1466.4,331.9 1467.4,331.7 1468.4,331.7 1469.4,331.7 1470.4,331.7 1471.4,331.4 1472.4,331.4 1473.4,331.2 1474.4,331.2 1475.4,331.2 1476.4,331.2 1477.4,331.2 1478.4,331.2 1479.4,331.2 1480.4,331.2 1481.4,331.2 1482.4,331.2 1483.4,331.2 1484.4,331.2 1485.4,331.3 1486.4,331.3 1487.4,331.3 1488.4,331.3 1489.4,331.3 1490.4,331.3 1491.4,331.3 1492.4,331.3 1493.4,331.3 1494.4,331.3 1495.4,331.3 1496.4,331.3 1497.4,331.7 1498.4,331.6 1499.4,331.6 1500.4,331.6 1501.4,331.6 1502.4,331.6 1503.4,331.6 1504.4,331.6 1505.4,331.6 1506.4,331.6 1507.4,331.6 1508.4,331.6 1509.4,331.6 1510.4,332 1511.4,332 1512.4,332 1513.4,332.3 1514.4,332.3 1515.4,332.7 1516.4,332.7 1517.4,332.7 1518.4,332.7 1519.4,332.7 1520.4,332.7 1521.4,332.7 1522.4,332.7 1523.4,333.3 1524.4,333 1525.4,333 1526.4,332.9 1527.4,332.9 1528.4,332.9 1529.4,332.9 1530.4,332.9 1531.4,332.9 1532.4,332.9 1533.4,332.9 1534.4,332.9 1535.4,332.5 1536.4,332.2 1537.4,332.2 1538.4,332.2 1539.4,332.2 1540.4,332.2 1541.4,332.2 1542.4,332.2 1543.4,332.2 1544.4,332.2 1545.4,331.8 1546.4,331.8 1547.4,331.8 1548.4,331.8 1549.4,331.8 1550.4,331.5 1551.4,331.5 1552.4,331.5 1553.4,331.5 1554.4,331.5 1555.4,331.5 1556.4,331.5 1557.4,331.5 1558.4,331.5 1559.4,331.1 1560.4,331.1 1561.4,331.1 1562.4,331.1 1563.4,331.1 1564.4,331.1 1565.4,331.1 1566.4,331.1 1567.4,331.1 1568.4,331.1 1569.4,331.1 1570.4,331.1 1571.4,331.3 1572.4,331.3 1573.4,331.3 1574.4,331.3 1575.4,331.3 1576.4,331.3 1577.4,331.3 1578.4,331.3 1579.4,331.3 1580.4,331.3 1581.4,331.4 1582.4,331.4 1583.4,331.4 1584.4,331.4 1585.4,331.4 1586.4,331.4 1587.4,331.4 1588.4,331.8 1589.4,331.8 1590.4,331.8 1591.4,331.8 1592.4,331.8 1593.4,331.8 1594.4,331.8 1595.4,331.8 1596.4,331.8 1597.4,331.8 1598.4,331.8 1599.4,331.8 1600.4,331.8 1601.4,331.8 1602.4,331.7 1603.4,331.7 1604.4,331.7 1605.4,331.7 1606.4,331.7 1607.4,331.7 1608.4,331.7 1609.4,331.7 1610.4,331.7 1611.4,331.7 1612.4,331.7 1613.4,331.7 1614.4,331.8 1615.4,332 1616.4,332 1617.4,332 1618.4,332 1619.4,332 1620.4,332 1621.4,332 1622.4,331.9 1623.4,331.9 1624.4,331.9 1625.4,331.9 1626.4,331.9 1627.4,331.9 1628.4,331.9 1629.4,331.9 1630.4,331.9 1631.4,331.9 1632.4,331.9 1633.4,331.9 1634.4,331.9 1634.4,343.1 1633.4,343.1 1632.4,344 1631.4,344 1630.4,344 1629.4,344.4 1628.4,344.9 1627.4,344.9 1626.4,344.9 1625.4,344.9 1624.4,344.9 1623.4,344.9 1622.4,344.9 1621.4,344.9 1620.4,344.9 1619.4,344.9 1618.4,344.9 1617.4,344.9 1616.4,344.7 1615.4,344.7 1614.4,344.7 1613.4,344.7 1612.4,344.7 1611.4,344.7 1610.4,344.7 1609.4,344.7 1608.4,344.7 1607.4,344.7 1606.4,344.4 1605.4,344.4 1604.4,344.4 1603.4,344.4 1602.4,344.4 1601.4,344.4 1600.4,344.4 1599.4,344.5 1598.4,344.8 1597.4,344.8 1596.4,344.8 1595.4,344.8 1594.4,344.8 1593.4,344.8 1592.4,344.8 1591.4,344.8 1590.4,344.8 1589.4,344.8 1588.4,344.8 1587.4,344.8 1586.4,344.5 1585.4,344.5 1584.4,344.5 1583.4,344.5 1582.4,344.5 1581.4,344.3 1580.4,344.3 1579.4,344.2 1578.4,344.2 1577.4,344.2 1576.4,344.2 1575.4,344.2 1574.4,344.2 1573.4,344.2 1572.4,344.2 1571.4,344.1 1570.4,344.1 1569.4,343.3 1568.4,343.9 1567.4,343.9 1566.4,343.9 1565.4,343.9 1564.4,343.9 1563.4,343.9 1562.4,343.9 1561.4,343.9 1560.4,343.9 1559.4,343.9 1558.4,343.9 1557.4,343.9 1556.4,343.8 1555.4,344.1 1554.4,344.1 1553.4,344.4 1552.4,344.5 1551.4,344.5 1550.4,344.6 1549.4,344.7 1548.4,344.8 1547.4,344.8 1546.4,344.8 1545.4,344.8 1544.4,345 1543.4,345 1542.4,345 1541.4,345.2 1540.4,345.3 1539.4,345.3 1538.4,345.3 1537.4,345.3 1536.4,345.3 1535.4,345.3 1534.4,345.3 1533.4,345.3 1532.4,345.3 1531.4,345.3 1530.4,345.3 1529.4,345.3 1528.4,345.3 1527.4,345.3 1526.4,345.3 1525.4,345.3 1524.4,345.3 1523.4,345.3 1522.4,345 1521.4,345 1520.4,345 1519.4,345.1 1518.4,345.1 1517.4,345.1 1516.4,345.1 1515.4,345.1 1514.4,345.1 1513.4,345.1 1512.4,345.1 1511.4,345.1 1510.4,345.1 1509.4,345.1 1508.4,345.1 1507.4,345 1506.4,344.6 1505.4,344.3 1504.4,344.1 1503.4,344.1 1502.4,344.2 1501.4,344.2 1500.4,344.2 1499.4,344.2 1498.4,344.2 1497.4,344.2 1496.4,344.2 1495.4,344.2 1494.4,344.2 1493.4,344.2 1492.4,344.2 1491.4,344.2 1490.4,344 1489.4,344 1488.4,344 1487.4,343.9 1486.4,343.9 1485.4,343.9 1484.4,343.9 1483.4,343.9 1482.4,343.9 1481.4,343.9 1480.4,343.9 1479.4,343.9 1478.4,343.9 1477.4,343.6 1476.4,343.6 1475.4,343.8 1474.4,343.8 1473.4,343.8 1472.4,344.1 1471.4,344.1 1470.4,344.4 1469.4,344.4 1468.4,344.4 1467.4,344.4 1466.4,344.4 1465.4,344.4 1464.4,344.4 1463.4,344.4 1462.4,344.4 1461.4,344.4 1460.4,344.5 1459.4,344.5 1458.4,344.5 1457.4,344.5 1456.4,344.5 1455.4,344.5 1454.4,344.5 1453.4,344.5 1452.4,344.5 1451.4,344.5 1450.4,344.5 1449.4,344.5 1448.4,344.3 1447.4,344.3 1446.4,344.3 1445.4,344.3 1444.4,344.3 1443.4,344.3 1442.4,344.3 1441.4,344.3 1440.4,344.3 1439.4,344.3 1438.4,344.3 1437.4,344.3 1436.4,344.3 1435.4,344.3 1434.4,344.3 1433.4,344.1 1432.4,344.1 1431.4,344.1 1430.4,344.1 1429.4,344 1428.4,344 1427.4,344.1 1426.4,344.1 1425.4,344.1 1424.4,344.1 1423.4,344.1 1422.4,344.1 1421.4,344.1 1420.4,344.1 1419.4,344.1 1418.4,344.1 1417.4,344.1 1416.4,344.1 1415.4,344.2 1414.4,344.2 1413.4,344.2 1412.4,344.2 1411.4,344.2 1410.4,344.2 1409.4,344.2 1408.4,344.2 1407.4,344.2 1406.4,344.2 1405.4,344.2 1404.4,344.2 1403.4,344 1402.4,344 1401.4,344 1400.4,344 1399.4,344 1398.4,343.4 1397.4,343.4 1396.4,343.4 1395.4,343.4 1394.4,343.4 1393.4,343.4 1392.4,343.4 1391.4,343.1 1390.4,343.1 1389.4,343.1 1388.4,342.9 1387.4,342.9 1386.4,342.9 1385.4,342.9 1384.4,342.9 1383.4,342.9 1382.4,342.9 1381.4,342.7 1380.4,342.4 1379.4,342.4 1378.4,342.4 1377.4,342.4 1376.4,342.5 1375.4,342.8 1374.4,342.8 1373.4,342.8 1372.4,342.8 1371.4,342.8 1370.4,342.8 1369.4,342.8 1368.4,342.8 1367.4,342.8 1366.4,342.8 1365.4,342.8 1364.4,342.8 1363.4,342.4 1362.4,342.4 1361.4,342.4 1360.4,342.4 1359.4,342.4 1358.4,342.4 1357.4,342.8 1356.4,342.8 1355.4,342.8 1354.4,342.8 1353.4,342.8 1352.4,342.8 1351.4,342.8 1350.4,342.8 1349.4,342.9 1348.4,342.9 1347.4,342.9 1346.4,342.9 1345.4,342.9 1344.4,342.9 1343.4,342.9 1342.4,342.9 1341.4,342.9 1340.4,342.9 1339.4,342.9 1338.4,342.9 1337.4,342.4 1336.4,342.4 1335.4,342.4 1334.4,342.2 1333.4,342.4 1332.4,342.4 1331.4,342.4 1330.4,342.4 1329.4,342.4 1328.4,342.5 1327.4,342.5 1326.4,342.5 1325.4,342.5 1324.4,342.5 1323.4,342.5 1322.4,342.5 1321.4,342.5 1320.4,342.5 1319.4,342.5 1318.4,342.5 1317.4,342.5 1316.4,342.2 1315.4,342.6 1314.4,342.6 1313.4,342.6 1312.4,342.6 1311.4,342.6 1310.4,342.6 1309.4,342.6 1308.4,342.6 1307.4,342.6 1306.4,342.6 1305.4,342.6 1304.4,342.6 1303.4,342.3 1302.4,342.6 1301.4,342.6 1300.4,342.6 1299.4,342.6 1298.4,342.6 1297.4,342.6 1296.4,342.6 1295.4,342.6 1294.4,342.6 1293.4,342.6 1292.4,342.6 1291.4,342.6 1290.4,342.5 1289.4,342.5 1288.4,342.5 1287.4,342.5 1286.4,342.8 1285.4,342.8 1284.4,342.8 1283.4,342.8 1282.4,342.8 1281.4,342.8 1280.4,342.8 1279.4,342.8 1278.4,342.8 1277.4,342.8 1276.4,342.8 1275.4,342.8 1274.4,342.6 1273.4,342 1272.4,342 1271.4,342 1270.4,341.6 1269.4,341.6 1268.4,341.6 1267.4,341.6 1266.4,341.6 1265.4,341.6 1264.4,341.6 1263.4,341.6 1262.4,341.6 1261.4,341.6 1260.4,341.5 1259.4,341.3 1258.4,341.3 1257.4,341.3 1256.4,341.3 1255.4,341.3 1254.4,341.3 1253.4,341.3 1252.4,341.3 1251.4,341.3 1250.4,341.4 1249.4,341.4 1248.4,341.4 1247.4,341.4 1246.4,341.4 1245.4,341.5 1244.4,341.5 1243.4,341.5 1242.4,341.5 1241.4,341.5 1240.4,341.5 1239.4,341.5 1238.4,341.5 1237.4,341.5 1236.4,341.5 1235.4,341.5 1234.4,341.5 1233.4,341.3 1232.4,341.3 1231.4,341.6 1230.4,341.6 1229.4,341.6 1228.4,341.6 1227.4,341.6 1226.4,341.6 1225.4,341.6 1224.4,341.6 1223.4,341.6 1222.4,341.6 1221.4,341.6 1220.4,341.6 1219.4,341.6 1218.4,341.6 1217.4,341.6 1216.4,341.6 1215.4,341.6 1214.4,341.6 1213.4,341.6 1212.4,341.6 1211.4,341.4 1210.4,341.4 1209.4,341.4 1208.4,340.9 1207.4,340.8 1206.4,340.8 1205.4,340.8 1204.4,340.8 1203.4,340.8 1202.4,340.8 1201.4,340.8 1200.4,340.8 1199.4,340.8 1198.4,340.8 1197.4,340.8 1196.4,340.8 1195.4,340.8 1194.4,340.4 1193.4,340.4 1192.4,340.4 1191.4,340.4 1190.4,340.4 1189.4,340.4 1188.4,340.4 1187.4,340.5 1186.4,340.5 1185.4,340.5 1184.4,340.5 1183.4,340.5 1182.4,340.5 1181.4,340.5 1180.4,340.5 1179.4,340.5 1178.4,340.5 1177.4,340.5 1176.4,340.5 1175.4,340.5 1174.4,340.5 1173.4,340.7 1172.4,340.9 1171.4,341 1170.4,341 1169.4,341 1168.4,341 1167.4,341 1166.4,341 1165.4,341 1164.4,341 1163.4,341 1162.4,341 1161.4,341 1160.4,341 1159.4,340.9 1158.4,340.9 1157.4,340.9 1156.4,340.9 1155.4,340.9 1154.4,340.9 1153.4,340.9 1152.4,340.9 1151.4,340.9 1150.4,340.9 1149.4,340.8 1148.4,340.8 1147.4,340.8 1146.4,341 1145.4,341 1144.4,341 1143.4,341 1142.4,341 1141.4,341 1140.4,341 1139.4,341 1138.4,341 1137.4,341 1136.4,341 1135.4,341 1134.4,340.9 1133.4,340.9 1132.4,341.2 1131.4,341.2 1130.4,341.2 1129.4,341.2 1128.4,341.2 1127.4,341.2 1126.4,341.2 1125.4,341.2 1124.4,341.2 1123.4,341.3 1122.4,341.4 1121.4,341.4 1120.4,341.4 1119.4,341.4 1118.4,341.4 1117.4,341.4 1116.4,341.4 1115.4,341.4 1114.4,341.4 1113.4,341.4 1112.4,341.4 1111.4,341.4 1110.4,341.1 1109.4,341.1 1108.4,341.1 1107.4,341.1 1106.4,341.1 1105.4,341.1 1104.4,340.5 1103.4,340.8 1102.4,340.8 1101.4,340.8 1100.4,340.8 1099.4,340.8 1098.4,340.8 1097.4,340.8 1096.4,340.8 1095.4,340.8 1094.4,340.8 1093.4,340.8 1092.4,340.8 1091.4,340.5 1090.4,340.5 1089.4,340.5 1088.4,340.5 1087.4,340.5 1086.4,340.5 1085.4,340.5 1084.4,340.5 1083.4,340.5 1082.4,340.5 1081.4,340.5 1080.4,340.5 1079.4,339.4 1078.4,339.4 1077.4,339.4 1076.4,339.4 1075.4,339.4 1074.4,339.4 1073.4,339.4 1072.4,339.4 1071.4,339.4 1070.4,339.4 1069.4,339.4 1068.4,339.4 1067.4,339.4 1066.4,339.4 1065.4,339.4 1064.4,339.4 1063.4,339.2 1062.4,339.2 1061.4,339.2 1060.4,339.2 1059.4,338.9 1058.4,338.9 1057.4,338.9 1056.4,338.9 1055.4,338.9 1054.4,338.5 1053.4,338.5 1052.4,338.4 1051.4,338.4 1050.4,338.8 1049.4,338.8 1048.4,338.8 1047.4,338.8 1046.4,338.8 1045.4,338.8 1044.4,338.8 1043.4,338.8 1042.4,338.8 1041.4,338.8 1040.4,338.8 1039.4,338.8 1038.4,338.5 1037.4,338.5 1036.4,338.5 1035.4,338.5 1034.4,338.5 1033.4,338.5 1032.4,338.5 1031.4,338.5 1030.4,338.5 1029.4,338.5 1028.4,338.5 1027.4,337.7 1026.4,337.7 1025.4,337.7 1024.4,337.7 1023.4,336.4 1022.4,336.3 1021.4,336.3 1020.4,336.3 1019.4,336.3 1018.4,336.3 1017.4,335.2 1016.4,334.6 1015.4,334.5 1014.4,334.5 1013.4,334.5 1012.4,334.5 1011.4,334 1010.4,334 1009.4,333.8 1008.4,333.2 1007.4,333.1 1006.4,333.1 1005.4,333.1 1004.4,331.8 1003.4,331.8 1002.4,331.8 1001.4,331.8 1000.4,331.8 999.4,331.8 998.4,331.8 997.4,331.5 996.4,331.5 995.4,331.5 994.4,331.5 993.4,331.5 992.4,331.5 991.4,331.5 990.4,331.5 989.4,331.5" fill="#f00"/>
<polygon points="960,112 966.7,112 975,108.8 977.5,108.8 977.5,123.7 960,123.7" fill="#0f0"/>
<polyline points="982.3,97.7 982.6,118 984.2,135 984.6,180 985.4,250 986.3,293" fill="none" stroke="#0f0" stroke-width="12" stroke-linejoin="miter"/>
<polygon points="981.4,286.5 982.4,286.5 983.4,286.5 984.4,286.5 985.4,286.5 986.4,286.5 987.4,286.5 988.4,286.5 989.4,286.5 990.4,286.5 991.4,286.5 992.4,286.5 993.4,287.3 994.4,289.5 995.4,291.2 996.4,291.9 997.4,291.9 998.4,293.2 999.4,293.9 1000.4,294.8 1001.4,295.7 1002.4,296.7 1003.4,296.7 1004.4,298.3 1005.4,298.3 1006.4,299.1 1007.4,299.7 1008.4,299.9 1009.4,300.6 1010.4,300.6 1011.4,300.6 1012.4,300.6 1013.4,300.6 1014.4,301.4 1015.4,301.4 1016.4,301.4 1017.4,302.2 1018.4,302.2 1019.4,303.5 1020.4,303.5 1021.4,303.5 1022.4,303.5 1023.4,303.5 1024.4,304.5 1025.4,304.5 1026.4,304.5 1027.4,304.5 1028.4,305.2 1029.4,305.2 1030.4,305.2 1031.4,306.1 1032.4,306.1 1033.4,306.1 1034.4,307 1035.4,307 1036.4,307 1037.4,307.8 1038.4,307.8 1039.4,308.1 1040.4,308.2 1041.4,308.5 1042.4,308.5 1043.4,308.8 1044.4,309.1 1045.4,309.1 1046.4,310.2 1047.4,310.2 1048.4,310.8 1049.4,311.2 1050.4,311.2 1051.4,311.2 1052.4,312 1053.4,312.2 1054.4,312.2 1055.4,312.5 1056.4,313 1057.4,313.1 1058.4,313.1 1059.4,313.9 1060.4,313.9 1061.4,314.1 1062.4,314.1 1063.4,314.9 1064.4,315.1 1065.4,315.4 1066.4,315.4 1067.4,315.4 1068.4,315.8 1069.4,315.8 1070.4,315.8 1071.4,315.8 1072.4,316.5 1073.4,316.5 1074.4,316.5 1075.4,316.5 1076.4,317.1 1077.4,317.1 1078.4,317.6 1079.4,317.7 1080.4,317.7 1081.4,318.5 1082.4,318.5 1083.4,318.5 1084.4,318.5 1085.4,318.5 1086.4,318.7 1087.4,319.7 1088.4,319.9 1089.4,320.4 1090.4,320.4 1091.4,320.4 1092.4,320.4 1093.4,320.8 1094.4,321 1095.4,321 1096.4,321 1097.4,321 1098.4,321 1099.4,321.7 1100.4,321.7 1101.4,321.7 1102.4,321.7 1103.4,321.7 1104.4,321.9 1105.4,321.9 1106.4,321.9 1107.4,323 1108.4,323.1 1109.4,323.1 1110.4,323.3 1111.4,323.3 1112.4,323.3 1113.4,323.3 1114.4,323.5 1115.4,323.5 1116.4,324.2 1117.4,324.2 1118.4,324.2 1119.4,324.2 1120.4,324.4 1121.4,324.4 1122.4,324.4 1123.4,324.6 1124.4,324.5 1125.4,324.3 1126.4,324.3 1127.4,324.2 1128.4,324.2 1129.4,324.2 1130.4,324.2 1131.4,324.2 1132.4,324.2 1133.4,324.2 1134.4,324.2 1135.4,324.2 1136.4,324.2 1137.4,324.2 1138.4,324.2 1139.4,324.5 1140.4,324.5 1141.4,324.5 1142.4,324.5 1143.4,324.5 1144.4,324.9 1145.4,325.3 1146.4,325.3 1147.4,325.3 1148.4,326.2 1149.4,326.2 1150.4,326.2 1151.4,326.2 1152.4,326.4 1153.4,326.4 1154.4,326.4 1155.4,326.4 1156.4,326.6 1157.4,326.9 1158.4,326.9 1159.4,326.9 1160.4,327.8 1161.4,327.8 1162.4,327.8 1163.4,327.8 1164.4,328 1165.4,328 1166.4,328 1167.4,328 1168.4,328 1169.4,328 1170.4,328 1171.4,328 1172.4,328 1173.4,328.2 1174.4,328.2 1175.4,328.3 1176.4,328.3 1177.4,328.5 1178.4,328.9 1179.4,328.9 1180.4,328.9 1181.4,328.9 1182.4,328.9 1183.4,328.9 1184.4,328.9 1185.4,328.9 1186.4,328.9 1187.4,329.2 1188.4,330 1189.4,330.1 1190.4,330.1 1191.4,330.1 1192.4,330.1 1193.4,330.1 1194.4,330.1 1195.4,330.2 1196.4,330.2 1197.4,330 1198.4,330 1199.4,330 1200.4,330 1201.4,330 1202.4,330 1203.4,330 1204.4,330 1205.4,330 1206.4,330 1207.4,330 1208.4,330 1209.4,330.3 1210.4,330.4 1211.4,330.4 1212.4,330.4 1213.4,330.4 1214.4,330.7 1215.4,330.7 1216.4,330.7 1217.4,330.8 1218.4,330.8 1219.4,330.8 1220.4,331 1221.4,331 1222.4,331 1223.4,331 1224.4,331 1225.4,331.4 1226.4,331.4 1227.4,332 1228.4,332.3 1229.4,332.3 1230.4,332.4 1231.4,332.6 1232.4,332.6 1233.4,332.6 1234.4,332.6 1235.4,333 1236.4,333 1237.4,333 1238.4,333 1239.4,333 1240.4,333.3 1241.4,333.3 1242.4,333.3 1243.4,333.2 1244.4,333.2 1245.4,333.2 1246.4,332.8 1247.4,332.8 1248.4,332.8 1249.4,332.8 1250.4,332.8 1251.4,332.8 1252.4,332.8 1253.4,332.8 1254.4,332.8 1255.4,332.8 1256.4,332.8 1257.4,332.8 1258.4,332.8 1259.4,333 1260.4,333 1261.4,333 1262.4,333.2 1263.4,333.2 1264.4,333.2 1265.4,333.2 1266.4,333.2 1267.4,333.2 1268.4,333.2 1269.4,333.4 1270.4,333.4 1271.4,333.4 1272.4,333.7 1273.4,333.7 1274.4,333.7 1275.4,333.7 1276.4,333.7 1277.4,333.7 1278.4,333.7 1279.4,333.7 1280.4,334 1281.4,334.1 1282.4,334.1 1283.4,335.1 1284.4,335.1 1285.4,335.1 1286.4,335.1 1287.4,335.1 1288.4,335.1 1289.4,335.1 1290.4,335.1 1291.4,335.1 1292.4,335.1 1293.4,335.2 1294.4,335.2 1295.4,335.2 1296.4,335.4 1297.4,335.4 1298.4,335.5 1299.4,335.5 1300.4,335.6 1301.4,335.6 1302.4,335.6 1303.4,335.9 1304.4,335.9 1305.4,336 1306.4,336.1 1307.4,336.1 1308.4,336.1 1309.4,336.1 1310.4,336.4 1311.4,336.7 1312.4,336.7 1313.4,336.7 1314.4,336.7 1315.4,336.9 1316.4,336.9 1317.4,336.9 1318.4,336.9 1319.4,337.3 1320.4,337.3 1321.4,337.3 1322.4,337.6 1323.4,337.6 1324.4,337.9 1325.4,337.9 1326.4,337.9 1327.4,337.9 1328.4,337.9 1329.4,337.9 1330.4,337.9 1331.4,337.9 1332.4,338 1333.4,338.7 1334.4,338.7 1335.4,338.4 1336.4,338.4 1337.4,338.4 1338.4,338.4 1339.4,338.4 1340.4,338.4 1341.4,338.4 1342.4,338.4 1343.4,338.4 1344.4,338.4 1345.4,338.4 1346.4,338.4 1347.4,339 1348.4,339 1349.4,339 1350.4,339 1351.4,339 1352.4,339.4 1353.4,339.4 1354.4,339.4 1355.4,339.4 1356.4,339.4 1357.4,339.4 1358.4,339.4 1359.4,339.7 1360.4,339.8 1361.4,339.8 1362.4,339.8 1363.4,339.8 1364.4,339.8 1365.4,339.8 1366.4,339.8 1367.4,339.8 1368.4,339.8 1369.4,339.8 1370.4,339.8 1371.4,339.8 1372.4,340.2 1373.4,340.2 1374.4,340.2 1375.4,340.2 1376.4,340.2 1377.4,340.2 1378.4,340.6 1379.4,340.6 1380.4,340.6 1381.4,340.6 1382.4,340.6 1383.4,340.6 1384.4,340.6 1385.4,340.7 1386.4,340.7 1387.4,340.7 1388.4,340.7 1389.4,341.2 1390.4,341.2 1391.4,341.2 1392.4,341.6 1393.4,341.6 1394.4,341.6 1395.4,341.6 1396.4,341.6 1397.4,341.6 1398.4,341.6 1399.4,341.6 1400.4,341.6 1401.4,342.1 1402.4,342.1 1403.4,342.1 1404.4,342.1 1405.4,342.1 1406.4,342.1 1407.4,342.1 1408.4,342.1 1409.4,342.4 1410.4,342.7 1411.4,342.8 1412.4,342.8 1413.4,342.8 1414.4,342.7 1415.4,342.7 1416.4,342.7 1417.4,342.7 1418.4,342.7 1419.4,342.7 1420.4,342.7 1421.4,342.7 1422.4,342.7 1423.4,342.6 1424.4,342.6 1425.4,342.6 1426.4,342.6 1427.4,342.6 1428.4,342.6 1429.4,342.6 1430.4,342.6 1431.4,342.6 1432.4,342.6 1433.4,342.6 1434.4,342.6 1435.4,342.8 1436.4,342.8 1437.4,342.8 1438.4,343.1 1439.4,343.3 1440.4,343.3 1441.4,343.3 1442.4,343.3 1443.4,343.3 1444.4,343.5 1445.4,343.5 1446.4,343.5 1447.4,343.5 1448.4,343.5 1449.4,343.5 1450.4,343.5 1451.4,343.5 1452.4,343.5 1453.4,343.5 1454.4,344 1455.4,344 1456.4,344 1457.4,344 1458.4,344.4 1459.4,344.4 1460.4,344.4 1461.4,344.7 1462.4,344.7 1463.4,344.7 1464.4,344.7 1465.4,344.7 1466.4,344.7 1467.4,344.7 1468.4,345 1469.4,345.3 1470.4,345.3 1471.4,345.3 1472.4,345.3 1473.4,345.3 1474.4,345.2 1475.4,345.2 1476.4,345.2 1477.4,345.2 1478.4,345.2 1479.4,345.2 1480.4,345.2 1481.4,345.2 1482.4,345.2 1483.4,345.2 1484.4,345.2 1485.4,345.2 1486.4,345.4 1487.4,345.4 1488.4,345.4 1489.4,345.7 1490.4,345.7 1491.4,345.7 1492.4,345.7 1493.4,345.7 1494.4,345.7 1495.4,345.7 1496.4,345.7 1497.4,346.1 1498.4,346.1 1499.4,346.1 1500.4,346.1 1501.4,346.1 1502.4,346.1 1503.4,346.2 1504.4,346.5 1505.4,346.5 1506.4,346.5 1507.4,346.5 1508.4,346.5 1509.4,346.5 1510.4,346.5 1511.4,346.5 1512.4,346.5 1513.4,346.5 1514.4,346.6 1515.4,346.8 1516.4,347 1517.4,347 1518.4,347 1519.4,347 1520.4,347 1521.4,347 1522.4,347.2 1523.4,347.2 1524.4,347.2 1525.4,347.2 1526.4,347.1 1527.4,347.1 1528.4,347.1 1529.4,347.1 1530.4,346.9 1531.4,346.9 1532.4,346.9 1533.4,346.9 1534.4,346.9 1535.4,346.9 1536.4,346.9 1537.4,346.9 1538.4,346.9 1539.4,346.9 1540.4,346.9 1541.4,346.9 1542.4,347.3 1543.4,347.3 1544.4,347.3 1545.4,347.3 1546.4,347.3 1547.4,347.3 1548.4,347.3 1549.4,348 1550.4,348 1551.4,348 1552.4,348.1 1553.4,348.1 1554.4,348.1 1555.4,348.1 1556.4,348.1 1557.4,348.1 1558.4,348.3 1559.4,348.3 1560.4,348.3 1561.4,348.3 1562.4,348.6 1563.4,348.6 1564.4,348.7 1565.4,348.7 1566.4,348.7 1567.4,348.7 1568.4,348.7 1569.4,348.7 1570.4,348.7 1571.4,349 1572.4,349.1 1573.4,349.6 1574.4,349.5 1575.4,349.5 1576.4,349.5 1577.4,349.5 1578.4,349.5 1579.4,349.5 1580.4,349.5 1581.4,349.5 1582.4,349.5 1583.4,349.5 1584.4,349.5 1585.4,349.5 1586.4,350.3 1587.4,350.3 1588.4,349.9 1589.4,349.9 1590.4,349.9 1591.4,349.9 1592.4,349.9 1593.4,349.9 1594.4,349.9 1595.4,349.9 1596.4,349.9 1597.4,349.9 1598.4,349.9 1599.4,349.9 1600.4,350.6 1601.4,350.2 1602.4,350.2 1603.4,350.2 1604.4,350.2 1605.4,350.2 1606.4,350.2 1607.4,350.2 1608.4,350.2 1609.4,350.2 1610.4,350.2 1611.4,350.2 1612.4,350.2 1613.4,350.5 1614.4,350.6 1615.4,350.7 1616.4,350.7 1617.4,350.7 1618.4,350.7 1619.4,350.9 1620.4,351.3 1621.4,351.3 1622.4,351.3 1623.4,351.6 1624.4,351.6 1625.4,351.8 1626.4,351.8 1627.4,351.8 1628.4,351.8 1629.4,351.8 1630.4,351.8 1631.4,352 1632.4,352 1633.4,352.4 1634.4,352.4 1634.4,363.6 1633.4,363.6 1632.4,363.6 1631.4,364.3 1630.4,364.3 1629.4,364.3 1628.4,364.3 1627.4,364.3 1626.4,364.3 1625.4,364.4 1624.4,364.4 1623.4,364.4 1622.4,364.4 1621.4,364.4 1620.4,364.4 1619.4,364.4 1618.4,364.4 1617.4,364.4 1616.4,364.4 1615.4,364.4 1614.4,364.4 1613.4,363.7 1612.4,363.7 1611.4,363.3 1610.4,363.3 1609.4,363.3 1608.4,363.3 1607.4,363.3 1606.4,363.3 1605.4,363.1 1604.4,363.1 1603.4,362.8 1602.4,362.8 1601.4,362.8 1600.4,362.8 1599.4,362.8 1598.4,362.8 1597.4,362.8 1596.4,362.8 1595.4,362.7 1594.4,362.7 1593.4,362.8 1592.4,362.8 1591.4,362.8 1590.4,362.8 1589.4,362.8 1588.4,362.8 1587.4,362.8 1586.4,362.8 1585.4,362.8 1584.4,362.8 1583.4,362.8 1582.4,362.8 1581.4,362.5 1580.4,362.5 1579.4,362.5 1578.4,362.5 1577.4,362.5 1576.4,362.5 1575.4,362.5 1574.4,362.3 1573.4,362.3 1572.4,362.1 1571.4,362.1 1570.4,362.1 1569.4,362.1 1568.4,361.7 1567.4,361.5 1566.4,361.5 1565.4,361.5 1564.4,361.5 1563.4,361.3 1562.4,361.2 1561.4,361.2 1560.4,361.2 1559.4,361.2 1558.4,361.2 1557.4,361.2 1556.4,361.2 1555.4,361.1 1554.4,361.1 1553.4,361 1552.4,361 1551.4,361 1550.4,360.4 1549.4,360.4 1548.4,360.4 1547.4,360.4 1546.4,360.2 1545.4,360.2 1544.4,360.2 1543.4,360.2 1542.4,360.2 1541.4,360.2 1540.4,360.2 1539.4,360.2 1538.4,359.4 1537.4,359.4 1536.4,359.7 1535.4,359.8 1534.4,359.8 1533.4,359.8 1532.4,359.8 1531.4,359.8 1530.4,359.8 1529.4,359.8 1528.4,359.8 1527.4,359.8 1526.4,359.8 1525.4,359.8 1524.4,359.8 1523.4,359.8 1522.4,359.8 1521.4,359.8 1520.4,359.8 1519.4,359.8 1518.4,359.8 1517.4,359.8 1516.4,359.7 1515.4,359.7 1514.4,359.7 1513.4,359.7 1512.4,359.7 1511.4,359.7 1510.4,359.7 1509.4,359.7 1508.4,359.7 1507.4,359.7 1506.4,359.7 1505.4,359.3 1504.4,359.3 1503.4,359.3 1502.4,359.3 1501.4,359.3 1500.4,359.3 1499.4,359.3 1498.4,359.3 1497.4,359.2 1496.4,359.2 1495.4,359.2 1494.4,359.2 1493.4,359.2 1492.4,358.3 1491.4,358.3 1490.4,358.3 1489.4,358.3 1488.4,358.3 1487.4,358.3 1486.4,358.3 1485.4,358.3 1484.4,358.3 1483.4,358.3 1482.4,358.3 1481.4,358.2 1480.4,358.2 1479.4,358.2 1478.4,358.2 1477.4,358.2 1476.4,358.2 1475.4,358.2 1474.4,358.2 1473.4,358.2 1472.4,358.2 1471.4,358.2 1470.4,357.8 1469.4,357.8 1468.4,357.8 1467.4,357.8 1466.4,357.8 1465.4,357.8 1464.4,357.8 1463.4,357.8 1462.4,357.8 1461.4,357.8 1460.4,357.3 1459.4,357.3 1458.4,357.3 1457.4,357.2 1456.4,357.2 1455.4,357.2 1454.4,357.2 1453.4,357.2 1452.4,357.2 1451.4,357.2 1450.4,356.3 1449.4,356.3 1448.4,356.3 1447.4,356.3 1446.4,356.3 1445.4,356.3 1444.4,356.3 1443.4,356.3 1442.4,356.3 1441.4,356.3 1440.4,356.3 1439.4,356.3 1438.4,356.1 1437.4,356.1 1436.4,355.6 1435.4,355.6 1434.4,355.6 1433.4,355.6 1432.4,355.6 1431.4,355.6 1430.4,355.6 1429.4,355.6 1428.4,354.6 1427.4,354.9 1426.4,354.9 1425.4,354.9 1424.4,354.9 1423.4,355.4 1422.4,355.4 1421.4,355.4 1420.4,355.4 1419.4,355.4 1418.4,355.4 1417.4,355.4 1416.4,355.4 1415.4,355.4 1414.4,355.4 1413.4,355.4 1412.4,355.4 1411.4,355.2 1410.4,355.2 1409.4,355.2 1408.4,355.2 1407.4,355.2 1406.4,355.2 1405.4,354.9 1404.4,354.9 1403.4,354.9 1402.4,354.9 1401.4,354.8 1400.4,354.8 1399.4,354.7 1398.4,354.7 1397.4,354.7 1396.4,354.7 1395.4,354.4 1394.4,354.4 1393.4,354.4 1392.4,354.4 1391.4,354.4 1390.4,354.4 1389.4,354.4 1388.4,354.4 1387.4,354.4 1386.4,354.4 1385.4,354.3 1384.4,354.1 1383.4,354.1 1382.4,353.7 1381.4,353.6 1380.4,353.2 1379.4,353.2 1378.4,353.1 1377.4,353.1 1376.4,353.1 1375.4,353.1 1374.4,353.1 1373.4,353.1 1372.4,353.1 1371.4,353.1 1370.4,353.1 1369.4,353.1 1368.4,352.9 1367.4,352.7 1366.4,352.7 1365.4,352.7 1364.4,352.7 1363.4,352.7 1362.4,352.7 1361.4,352.7 1360.4,352.7 1359.4,352.7 1358.4,352.7 1357.4,352.7 1356.4,352.7 1355.4,352.6 1354.4,352.6 1353.4,352.3 1352.4,352 1351.4,352 1350.4,351.7 1349.4,351.7 1348.4,351.7 1347.4,351.7 1346.4,351.7 1345.4,351.7 1344.4,351.7 1343.4,351.5 1342.4,351.5 1341.4,351.5 1340.4,351.3 1339.4,351.3 1338.4,351.3 1337.4,351 1336.4,351 1335.4,350.9 1334.4,350.9 1333.4,350.9 1332.4,350.9 1331.4,350.9 1330.4,350.9 1329.4,350.9 1328.4,350.9 1327.4,350.9 1326.4,350.9 1325.4,350.9 1324.4,350.9 1323.4,350.6 1322.4,350.6 1321.4,350.6 1320.4,350.6 1319.4,350.6 1318.4,350.6 1317.4,350.3 1316.4,350.3 1315.4,350.1 1314.4,350.1 1313.4,350.1 1312.4,349.5 1311.4,349.5 1310.4,349.5 1309.4,349.5 1308.4,349.5 1307.4,348.8 1306.4,348.8 1305.4,348.8 1304.4,348.8 1303.4,348.8 1302.4,348.8 1301.4,348.7 1300.4,348.7 1299.4,348.7 1298.4,348.7 1297.4,348.7 1296.4,348.7 1295.4,348.7 1294.4,348.7 1293.4,348.7 1292.4,348.7 1291.4,347.9 1290.4,347.9 1289.4,347.7 1288.4,347.7 1287.4,347.7 1286.4,347.7 1285.4,347.7 1284.4,347.2 1283.4,347.3 1282.4,347.3 1281.4,347.3 1280.4,347.3 1279.4,347.3 1278.4,347.3 1277.4,347.3 1276.4,347.3 1275.4,347.3 1274.4,347.3 1273.4,347.3 1272.4,347.3 1271.4,346.6 1270.4,346.6 1269.4,346.6 1268.4,346.6 1267.4,346.6 1266.4,346.6 1265.4,346.4 1264.4,346.4 1263.4,346.4 1262.4,346.4 1261.4,346.2 1260.4,346.1 1259.4,346.1 1258.4,346.1 1257.4,346.1 1256.4,346.1 1255.4,345.7 1254.4,345.7 1253.4,345.9 1252.4,345.9 1251.4,345.9 1250.4,345.9 1249.4,345.9 1248.4,345.9 1247.4,345.9 1246.4,345.9 1245.4,345.9 1244.4,345.9 1243.4,345.9 1242.4,345.9 1241.4,345.9 1240.4,345.9 1239.4,345.9 1238.4,345.9 1237.4,345.9 1236.4,345.9 1235.4,345.9 1234.4,345.9 1233.4,345.9 1232.4,345.9 1231.4,345.9 1230.4,345.7 1229.4,345.7 1228.4,344.8 1227.4,344.8 1226.4,344.8 1225.4,344.8 1224.4,344.8 1223.4,344.5 1222.4,344.5 1221.4,344.5 1220.4,344.5 1219.4,344.3 1218.4,344.3 1217.4,344.3 1216.4,343.3 1215.4,343.3 1214.4,343.3 1213.4,343.3 1212.4,343.3 1211.4,343.3 1210.4,343.3 1209.4,343.3 1208.4,343.3 1207.4,343.3 1206.4,343 1205.4,343 1204.4,343 1203.4,343.1 1202.4,343.1 1201.4,343.1 1200.4,343.1 1199.4,343.1 1198.4,343.1 1197.4,343.1 1196.4,343.1 1195.4,343.1 1194.4,343.1 1193.4,343.1 1192.4,343.1 1191.4,343 1190.4,342.2 1189.4,342.2 1188.4,342.2 1187.4,342.2 1186.4,342.2 1185.4,342.2 1184.4,342.1 1183.4,342.1 1182.4,342.1 1181.4,342.1 1180.4,341.7 1179.4,341.5 1178.4,341.5 1177.4,341.4 1176.4,341.4 1175.4,341.4 1174.4,341.4 1173.4,341.4 1172.4,341.4 1171.4,341.4 1170.4,341.4 1169.4,341.4 1168.4,341.1 1167.4,341 1166.4,340.7 1165.4,340.7 1164.4,340.7 1163.4,340.4 1162.4,340.4 1161.4,340.4 1160.4,340.4 1159.4,340.4 1158.4,340.4 1157.4,340.2 1156.4,340.2 1155.4,340.2 1154.4,340.2 1153.4,340.2 1152.4,340.2 1151.4,340.2 1150.4,339.4 1149.4,339.4 1148.4,339.4 1147.4,339.4 1146.4,338.6 1145.4,338.6 1144.4,338.6 1143.4,338.6 1142.4,338.6 1141.4,338.6 1140.4,338.3 1139.4,338.3 1138.4,338.3 1137.4,338.1 1136.4,337.3 1135.4,337.3 1134.4,337.3 1133.4,337.3 1132.4,337.3 1131.4,337.3 1130.4,337.3 1129.4,337.2 1128.4,337.2 1127.4,336.9 1126.4,337 1125.4,337.1 1124.4,337.2 1123.4,337.2 1122.4,337.2 1121.4,337.2 1120.4,337.2 1119.4,337.2 1118.4,337.2 1117.4,337.2 1116.4,337.2 1115.4,337.2 1114.4,337.2 1113.4,337.2 1112.4,337 1111.4,337 1110.4,337 1109.4,336.5 1108.4,336 1107.4,336 1106.4,335.9 1105.4,335.9 1104.4,335.3 1103.4,335.3 1102.4,335.3 1101.4,335.3 1100.4,335.2 1099.4,335.2 1098.4,335 1097.4,335 1096.4,334.4 1095.4,334.4 1094.4,334.4 1093.4,334.4 1092.4,334.1 1091.4,334.1 1090.4,333.8 1089.4,333.8 1088.4,333.8 1087.4,333 1086.4,333 1085.4,333 1084.4,333 1083.4,332.5 1082.4,332.2 1081.4,332.2 1080.4,332.2 1079.4,332.2 1078.4,331.6 1077.4,331.1 1076.4,330.9 1075.4,330.7 1074.4,330.7 1073.4,330.7 1072.4,330.7 1071.4,330.7 1070.4,329.8 1069.4,329.5 1068.4,329.5 1067.4,329.1 1066.4,329.1 1065.4,329.1 1064.4,328.9 1063.4,328.9 1062.4,328.7 1061.4,328.7 1060.4,327.9 1059.4,327.9 1058.4,327.9 1057.4,327.9 1056.4,327.6 1055.4,327.6 1054.4,327 1053.4,326.3 1052.4,326.2 1051.4,326.2 1050.4,326.2 1049.4,326.2 1048.4,326.2 1047.4,325.1 1046.4,325.1 1045.4,324.2 1044.4,323.7 1043.4,323.5 1042.4,323.5 1041.4,323.2 1040.4,323.1 1039.4,323.1 1038.4,323.1 1037.4,322 1036.4,321.7 1035.4,321.7 1034.4,320.8 1033.4,320.8 1032.4,320.8 1031.4,320.8 1030.4,320.8 1029.4,319.6 1028.4,319.6 1027.4,319.6 1026.4,319.6 1025.4,319 1024.4,319 1023.4,318.7 1022.4,318.7 1021.4,317.7 1020.4,317 1019.4,317 1018.4,316.5 1017.4,316.3 1016.4,316.3 1015.4,316 1014.4,316 1013.4,315.9 1012.4,315.9 1011.4,315.6 1010.4,314.9 1009.4,314.9 1008.4,314.4 1007.4,314.4 1006.4,313.8 1005.4,313.8 1004.4,313 1003.4,312.7 1002.4,312.7 1001.4,312.7 1000.4,312.4 999.4,312.2 998.4,311.1 997.4,310.9 996.4,310.4 995.4,310.4 994.4,310.4 993.4,308.8 992.4,308.8 991.4,306.9 990.4,306 989.4,305.1 988.4,304.4 987.4,303.1 986.4,303.1 985.4,302.4 984.4,300.7 983.4,298.5 982.4,297.7 981.4,297.7" fill="#0f0"/>
<rect x="979" y="19.9" width="11.2" height="11.2" fill="#00f"/>
<rect x="979.1" y="41.4" width="11.2" height="11.2" fill="#00f"/>
<rect x="979.3" y="64.8" width="11.2" height="11.2" fill="#00f"/>
<rect x="979.7" y="89.8" width="11.2" height="11.2" fill="#00f"/>
<rect x="980.2" y="115.3" width="11.2" height="11.2" fill="#00f"/>
<rect x="980.6" y="141.1" width="11.2" height="11.2" fill="#00f"/>
<rect x="981.1" y="166.3" width="11.2" height="11.2" fill="#00f"/>
<rect x="981.6" y="190" width="11.2" height="11.2" fill="#00f"/>
<rect x="982.1" y="213.1" width="11.2" height="11.2" fill="#00f"/>
<rect x="982.6" y="233.8" width="11.2" height="11.2" fill="#00f"/>
<rect x="983.1" y="252.2" width="11.2" height="11.2" fill="#00f"/>
<rect x="983.4" y="266.9" width="11.2" height="11.2" fill="#00f"/>
<rect x="983.7" y="277.4" width="11.2" height="11.2" fill="#00f"/>
<rect x="984" y="284.9" width="11.2" height="11.2" fill="#00f"/>
<rect x="984.4" y="273.4" width="11.2" height="11.2" fill="#00f"/>
<rect x="984.9" y="282.4" width="11.2" height="11.2" fill="#00f"/>
<rect x="985.4" y="268.4" width="11.2" height="11.2" fill="#00f"/>
<rect x="986.4" y="284.4" width="11.2" height="11.2" fill="#00f"/>
<rect x="987.4" y="271.4" width="11.2" height="11.2" fill="#00f"/>
<rect x="988.4" y="283.4" width="11.2" height="11.2" fill="#00f"/>
<rect x="989.4" y="273.9" width="11.2" height="11.2" fill="#00f"/>
<rect x="990.4" y="282.9" width="11.2" height="11.2" fill="#00f"/>
<rect x="991.4" y="274.9" width="11.2" height="11.2" fill="#00f"/>
<rect x="992.4" y="282.4" width="11.2" height="11.2" fill="#00f"/>
<rect x="993.4" y="276.4" width="11.2" height="11.2" fill="#00f"/>
<rect x="994.4" y="282.4" width="11.2" height="11.2" fill="#00f"/>
<polygon points="984.4,282.3 985.4,282.3 986.4,281.8 987.4,280.9 988.4,280.9 989.4,280.9 990.4,280.9 991.4,280 992.4,280 993.4,280 994.4,280 995.4,280 996.4,280 997.4,280 998.4,280 999.4,280 1000.4,280 1001.4,280 1002.4,280.4 1003.4,280.4 1004.4,280.4 1005.4,280.4 1006.4,280.4 1007.4,280.4 1008.4,281.3 1009.4,281.5 1010.4,282.4 1011.4,282.4 1012.4,282.4 1013.4,282.4 1014.4,282.5 1015.4,282.5 1016.4,284.2 1017.4,284.3 1018.4,284.3 1019.4,284.5 1020.4,284.5 1021.4,284.5 1022.4,285 1023.4,285 1024.4,285.1 1025.4,286.3 1026.4,287 1027.4,287 1028.4,288 1029.4,289.5 1030.4,289.6 1031.4,290.5 1032.4,290.8 1033.4,291 1034.4,291 1035.4,291 1036.4,291 1037.4,291 1038.4,291 1039.4,291 1040.4,291.5 1041.4,291.5 1042.4,291.5 1043.4,291.5 1044.4,291.5 1045.4,291.5 1046.4,292 1047.4,292 1048.4,292 1049.4,292 1050.4,292 1051.4,292 1052.4,292.5 1053.4,292.8 1054.4,292.8 1055.4,292.8 1056.4,292.8 1057.4,292.8 1058.4,293.7 1059.4,293.7 1060.4,293.7 1061.4,295 1062.4,295 1063.4,295 1064.4,295 1065.4,295 1066.4,295 1067.4,295.2 1068.4,295.2 1069.4,295.2 1070.4,295.2 1071.4,295.2 1072.4,295.2 1073.4,295.2 1074.4,295.2 1075.4,295.3 1076.4,295.3 1077.4,295.3 1078.4,295.3 1079.4,295.3 1080.4,295.3 1081.4,295.3 1082.4,295.3 1083.4,295.3 1084.4,295.3 1085.4,295.3 1086.4,295.7 1087.4,295.7 1088.4,296 1089.4,296 1090.4,296 1091.4,296 1092.4,296 1093.4,296 1094.4,296.1 1095.4,296.1 1096.4,296.1 1097.4,296.1 1098.4,296.1 1099.4,296.5 1100.4,296.5 1101.4,296.5 1102.4,296.5 1103.4,296.5 1104.4,296.5 1105.4,297.4 1106.4,297.4 1107.4,297.4 1108.4,297.4 1109.4,297.4 1110.4,297.5 1111.4,297.5 1112.4,297.5 1113.4,297.5 1114.4,297.5 1115.4,297.5 1116.4,297.5 1117.4,297.5 1118.4,297.5 1119.4,297.5 1120.4,297.5 1121.4,297.5 1122.4,297.7 1123.4,297.7 1124.4,297.7 1125.4,297.7 1126.4,297.7 1127.4,297.7 1128.4,297.7 1129.4,297.7 1130.4,297.8 1131.4,297.8 1132.4,297.8 1133.4,298.5 1134.4,298.5 1135.4,298.5 1136.4,298.7 1137.4,298.7 1138.4,298.7 1139.4,298.7 1140.4,298.7 1141.4,298.7 1142.4,298.8 1143.4,299.1 1144.4,299.1 1145.4,299.5 1146.4,299.5 1147.4,299.5 1148.4,299.5 1149.4,299.8 1150.4,299.8 1151.4,299.8 1152.4,299.8 1153.4,299.8 1154.4,299.8 1155.4,299.8 1156.4,299.8 1157.4,299.8 1158.4,299.8 1159.4,299.8 1160.4,299.8 1161.4,299.8 1162.4,299.8 1163.4,299.8 1164.4,299.8 1165.4,299.9 1166.4,299.9 1167.4,299.9 1168.4,299.9 1169.4,299.9 1170.4,299.9 1171.4,299.9 1172.4,299.9 1173.4,299.9 1174.4,299.9 1175.4,299.9 1176.4,300.3 1177.4,300.3 1178.4,300.3 1179.4,300.3 1180.4,300.8 1181.4,300.8 1182.4,300.8 1183.4,300.8 1184.4,300.8 1185.4,300.8 1186.4,300.8 1187.4,300.8 1188.4,300.8 1189.4,301.5 1190.4,301.5 1191.4,301.7 1192.4,301.7 1193.4,301.7 1194.4,301.7 1195.4,301.2 1196.4,301.2 1197.4,301.2 1198.4,301 1199.4,301 1200.4,301 1201.4,301 1202.4,301 1203.4,301 1204.4,301 1205.4,301 1206.4,301 1207.4,301 1208.4,301 1209.4,301 1210.4,301.3 1211.4,301.3 1212.4,301.4 1213.4,301.4 1214.4,301.4 1215.4,301.4 1216.4,301.4 1217.4,301.4 1218.4,301.4 1219.4,301.4 1220.4,301.4 1221.4,301.4 1222.4,302 1223.4,302 1224.4,302 1225.4,302.1 1226.4,302.1 1227.4,302.1 1228.4,302.1 1229.4,302.1 1230.4,302.1 1231.4,302.3 1232.4,302.3 1233.4,302.3 1234.4,302.3 1235.4,302.3 1236.4,302.3 1237.4,302.3 1238.4,302.3 1239.4,302.6 1240.4,302.6 1241.4,302.6 1242.4,302.6 1243.4,302.9 1244.4,302.9 1245.4,302.9 1246.4,302.9 1247.4,302.9 1248.4,303 1249.4,303 1250.4,303.1 1251.4,303.3 1252.4,303.3 1253.4,303.3 1254.4,303.3 1255.4,303.3 1256.4,303.3 1257.4,303.3 1258.4,303.3 1259.4,303.3 1260.4,303.3 1261.4,303.3 1262.4,303.4 1263.4,303.4 1264.4,303.4 1265.4,303.4 1266.4,303.4 1267.4,303.4 1268.4,303.4 1269.4,303.4 1270.4,303.4 1271.4,303.4 1272.4,303.4 1273.4,303.4 1274.4,303.4 1275.4,303.4 1276.4,303.2 1277.4,303.2 1278.4,303.2 1279.4,303.2 1280.4,303 1281.4,303 1282.4,303 1283.4,303 1284.4,303 1285.4,303 1286.4,303 1287.4,303 1288.4,303 1289.4,303 1290.4,303 1291.4,303 1292.4,303.1 1293.4,303.1 1294.4,303.5 1295.4,303.5 1296.4,303.7 1297.4,303.7 1298.4,303.7 1299.4,304.8 1300.4,304.8 1301.4,304.8 1302.4,304.8 1303.4,304.8 1304.4,304.8 1305.4,304.8 1306.4,304.8 1307.4,304.8 1308.4,304.8 1309.4,304.8 1310.4,304.8 1311.4,304 1312.4,304 1313.4,303.9 1314.4,303.9 1315.4,303.9 1316.4,303.9 1317.4,303.9 1318.4,303.9 1319.4,303.9 1320.4,303.9 1321.4,303.9 1322.4,303.9 1323.4,303.9 1324.4,303.9 1325.4,304.2 1326.4,304.2 1327.4,304.2 1328.4,304.2 1329.4,304.2 1330.4,304.2 1331.4,304.4 1332.4,304.4 1333.4,304.4 1334.4,304.4 1335.4,304.4 1336.4,304.4 1337.4,304.4 1338.4,304.4 1339.4,304.4 1340.4,304.5 1341.4,304.5 1342.4,304.5 1343.4,304.5 1344.4,304.5 1345.4,304.5 1346.4,304.5 1347.4,304.5 1348.4,304.5 1349.4,304.5 1350.4,304.5 1351.4,304.5 1352.4,304.8 1353.4,304.8 1354.4,304.9 1355.4,305 1356.4,305 1357.4,305 1358.4,305 1359.4,305 1360.4,305 1361.4,305 1362.4,305 1363.4,305 1364.4,305 1365.4,305.5 1366.4,305.5 1367.4,305.5 1368.4,305.5 1369.4,305.5 1370.4,305.6 1371.4,305.6 1372.4,305.8 1373.4,305.8 1374.4,306.3 1375.4,306.3 1376.4,306.3 1377.4,306.3 1378.4,306.3 1379.4,306.3 1380.4,306.3 1381.4,306.3 1382.4,306.3 1383.4,306.3 1384.4,306.3 1385.4,306.3 1386.4,306.6 1387.4,306.6 1388.4,306.5 1389.4,306.5 1390.4,306.5 1391.4,306.5 1392.4,306.5 1393.4,306.5 1394.4,306.5 1395.4,306.5 1396.4,306.5 1397.4,306.5 1398.4,306.5 1399.4,306.5 1400.4,306.5 1401.4,306.5 1402.4,306.5 1403.4,306.5 1404.4,306.5 1405.4,306.5 1406.4,306.5 1407.4,306.5 1408.4,306.5 1409.4,306.5 1410.4,306.5 1411.4,306.5 1412.4,306.5 1413.4,306.5 1414.4,306.5 1415.4,306.5 1416.4,306.5 1417.4,306.5 1418.4,306.5 1419.4,306.5 1420.4,306.5 1421.4,306.7 1422.4,306.7 1423.4,306.7 1424.4,306.7 1425.4,306.7 1426.4,306.7 1427.4,306.7 1428.4,306.7 1429.4,306.8 1430.4,306.8 1431.4,306.8 1432.4,306.8 1433.4,307 1434.4,307 1435.4,307 1436.4,307 1437.4,307.2 1438.4,307.2 1439.4,307.2 1440.4,307.2 1441.4,307.2 1442.4,307.5 1443.4,307.5 1444.4,307.5 1445.4,307.5 1446.4,307.5 1447.4,307.5 1448.4,307.9 1449.4,307.9 1450.4,307.9 1451.4,307.9 1452.4,308.4 1453.4,308.4 1454.4,308.4 1455.4,308.4 1456.4,308.4 1457.4,308.4 1458.4,308.4 1459.4,308.4 1460.4,308.4 1461.4,308.4 1462.4,308.7 1463.4,308.7 1464.4,308.8 1465.4,308.8 1466.4,308.8 1467.4,308.8 1468.4,308.8 1469.4,308.8 1470.4,308.8 1471.4,308.8 1472.4,308.8 1473.4,308.8 1474.4,308.8 1475.4,308.8 1476.4,309.3 1477.4,309.3 1478.4,309.3 1479.4,309.3 1480.4,309.3 1481.4,309.2 1482.4,308.7 1483.4,308.7 1484.4,308.7 1485.4,308.7 1486.4,307.6 1487.4,307.6 1488.4,307.6 1489.4,307.6 1490.4,307.6 1491.4,307.6 1492.4,307.6 1493.4,307.6 1494.4,307.6 1495.4,307.6 1496.4,307.6 1497.4,307.6 1498.4,307.6 1499.4,307.9 1500.4,307.9 1501.4,307.9 1502.4,307.9 1503.4,307.9 1504.4,307.9 1505.4,307.9 1506.4,307.9 1507.4,308 1508.4,308 1509.4,308 1510.4,308 1511.4,308.4 1512.4,308.4 1513.4,308.4 1514.4,308.4 1515.4,308.4 1516.4,308.1 1517.4,308.1 1518.4,308.1 1519.4,308.1 1520.4,308.1 1521.4,308.1 1522.4,308.1 1523.4,308.1 1524.4,308.1 1525.4,308.1 1526.4,308.1 1527.4,308.1 1528.4,308.2 1529.4,308.4 1530.4,308.4 1531.4,308.4 1532.4,308.4 1533.4,308.4 1534.4,309.1 1535.4,309.1 1536.4,309.1 1537.4,309.1 1538.4,309.1 1539.4,309 1540.4,309 1541.4,309 1542.4,309 1543.4,308.8 1544.4,308.4 1545.4,308.4 1546.4,308.4 1547.4,308.4 1548.4,308.4 1549.4,308.3 1550.4,308.3 1551.4,308.3 1552.4,308.3 1553.4,308.3 1554.4,308.3 1555.4,308.3 1556.4,308.3 1557.4,308.3 1558.4,308.3 1559.4,308.3 1560.4,308.3 1561.4,308.4 1562.4,308.4 1563.4,308 1564.4,308 1565.4,308 1566.4,308 1567.4,308 1568.4,308 1569.4,308 1570.4,308 1571.4,308 1572.4,308 1573.4,308 1574.4,308 1575.4,308.1 1576.4,309.3 1577.4,309.3 1578.4,309.3 1579.4,309.3 1580.4,309.4 1581.4,309.4 1582.4,309.4 1583.4,309.4 1584.4,309.6 1585.4,309.6 1586.4,309.6 1587.4,310.2 1588.4,310.2 1589.4,310.2 1590.4,310.2 1591.4,310.2 1592.4,310.2 1593.4,310.2 1594.4,310.2 1595.4,309.7 1596.4,309.7 1597.4,309.7 1598.4,309.7 1599.4,309.7 1600.4,309.7 1601.4,309.7 1602.4,309.7 1603.4,309.7 1604.4,309.7 1605.4,309.7 1606.4,309.7 1607.4,310.1 1608.4,310.1 1609.4,309.9 1610.4,309.6 1611.4,309.5 1612.4,309.5 1613.4,309.5 1614.4,309.5 1615.4,309.5 1616.4,309.5 1617.4,309.5 1618.4,309.5 1619.4,309.5 1620.4,309.5 1621.4,309.5 1622.4,309.5 1623.4,309.6 1624.4,309.6 1625.4,309.8 1626.4,309.8 1627.4,309.8 1628.4,309.8 1629.4,309.8 1630.4,309.8 1631.4,310.1 1632.4,310.1 1633.4,311.3 1634.4,311.3 1634.4,322.5 1633.4,322.5 1632.4,322.5 1631.4,322.5 1630.4,322.5 1629.4,322.6 1628.4,322.6 1627.4,322.6 1626.4,322.6 1625.4,322.6 1624.4,322.6 1623.4,322.6 1622.4,322.6 1621.4,322.6 1620.4,322.6 1619.4,322.6 1618.4,322.6 1617.4,323 1616.4,323 1615.4,323 1614.4,323 1613.4,323 1612.4,323 1611.4,323 1610.4,323 1609.4,323 1608.4,323 1607.4,323 1606.4,323 1605.4,323 1604.4,323 1603.4,323 1602.4,323 1601.4,323.3 1600.4,323.3 1599.4,323.3 1598.4,323.3 1597.4,323.3 1596.4,323.3 1595.4,323.3 1594.4,323.3 1593.4,323.3 1592.4,323.3 1591.4,323.3 1590.4,323.3 1589.4,322.6 1588.4,322.6 1587.4,322.6 1586.4,322.6 1585.4,322.6 1584.4,322.6 1583.4,322.6 1582.4,322.6 1581.4,322.4 1580.4,322.4 1579.4,322.4 1578.4,322.4 1577.4,322.4 1576.4,321.9 1575.4,321.8 1574.4,321.8 1573.4,321.8 1572.4,321.6 1571.4,321.6 1570.4,321.6 1569.4,321.6 1568.4,321.3 1567.4,321.3 1566.4,321.3 1565.4,321.3 1564.4,321.3 1563.4,321.3 1562.4,321.3 1561.4,321.3 1560.4,321.3 1559.4,321.3 1558.4,321.3 1557.4,321.3 1556.4,321.3 1555.4,321.3 1554.4,321.3 1553.4,321.3 1552.4,321.5 1551.4,321.5 1550.4,321.5 1549.4,321.5 1548.4,321.5 1547.4,321.5 1546.4,321.5 1545.4,321.5 1544.4,321.5 1543.4,321.5 1542.4,321.5 1541.4,321.5 1540.4,321.6 1539.4,321.6 1538.4,321.6 1537.4,321.6 1536.4,321.6 1535.4,321.6 1534.4,321.6 1533.4,321.6 1532.4,321.6 1531.4,321.6 1530.4,321.6 1529.4,321.6 1528.4,321.5 1527.4,321.5 1526.4,321.5 1525.4,321.5 1524.4,321.5 1523.4,321.5 1522.4,321.4 1521.4,321.4 1520.4,321.4 1519.4,321.4 1518.4,321.5 1517.4,321.5 1516.4,321.5 1515.4,321.5 1514.4,321.5 1513.4,321.5 1512.4,321.5 1511.4,321.5 1510.4,321.5 1509.4,321.5 1508.4,321.5 1507.4,321.5 1506.4,321.4 1505.4,321.3 1504.4,320.8 1503.4,320.8 1502.4,320.7 1501.4,320.9 1500.4,320.9 1499.4,320.9 1498.4,320.9 1497.4,320.9 1496.4,320.9 1495.4,320.9 1494.4,320.9 1493.4,320.9 1492.4,320.9 1491.4,321.4 1490.4,321.4 1489.4,321.4 1488.4,321.4 1487.4,321.4 1486.4,321.8 1485.4,321.8 1484.4,321.8 1483.4,321.8 1482.4,321.8 1481.4,321.8 1480.4,321.8 1479.4,321.8 1478.4,321.8 1477.4,321.8 1476.4,321.8 1475.4,321.8 1474.4,321.8 1473.4,321.8 1472.4,321.8 1471.4,321.8 1470.4,321.8 1469.4,321.8 1468.4,321.8 1467.4,321.8 1466.4,321.8 1465.4,321.8 1464.4,321.8 1463.4,321.8 1462.4,321.8 1461.4,321.8 1460.4,321.8 1459.4,321.7 1458.4,321.5 1457.4,321.5 1456.4,321.5 1455.4,321.5 1454.4,321.5 1453.4,321.5 1452.4,321.5 1451.4,321.5 1450.4,321.5 1449.4,321.5 1448.4,321.1 1447.4,321.1 1446.4,321.1 1445.4,321 1444.4,321 1443.4,320.3 1442.4,320.3 1441.4,320.3 1440.4,320.3 1439.4,320.3 1438.4,320.3 1437.4,320 1436.4,320 1435.4,320 1434.4,320 1433.4,320 1432.4,320 1431.4,319.7 1430.4,319.6 1429.4,319.6 1428.4,319.6 1427.4,319.6 1426.4,319.6 1425.4,319.6 1424.4,319.6 1423.4,319.5 1422.4,319.5 1421.4,319.5 1420.4,319.5 1419.4,319.5 1418.4,319.5 1417.4,319.5 1416.4,319.5 1415.4,319.5 1414.4,319.5 1413.4,319.5 1412.4,319.5 1411.4,319.2 1410.4,319.2 1409.4,319.2 1408.4,319.2 1407.4,319.2 1406.4,319.2 1405.4,319.2 1404.4,319.2 1403.4,319.2 1402.4,319.2 1401.4,319.2 1400.4,319.2 1399.4,319.2 1398.4,319.2 1397.4,319.2 1396.4,319.2 1395.4,319.2 1394.4,319.2 1393.4,319.2 1392.4,319.8 1391.4,319.8 1390.4,319.8 1389.4,319.8 1388.4,319.8 1387.4,319.8 1386.4,319.8 1385.4,319.8 1384.4,319.8 1383.4,319.8 1382.4,319.8 1381.4,319.8 1380.4,319.7 1379.4,319.4 1378.4,319.4 1377.4,319.4 1376.4,319.4 1375.4,319.4 1374.4,319.4 1373.4,319.4 1372.4,319.4 1371.4,319.1 1370.4,319.1 1369.4,319.1 1368.4,318.7 1367.4,318.7 1366.4,318.7 1365.4,318.7 1364.4,318.7 1363.4,318.7 1362.4,318.3 1361.4,318.3 1360.4,317.7 1359.4,317.7 1358.4,317.7 1357.4,317.7 1356.4,317.7 1355.4,317.7 1354.4,317.7 1353.4,317.6 1352.4,317.6 1351.4,317.6 1350.4,317.6 1349.4,317.6 1348.4,317.6 1347.4,317.4 1346.4,317.4 1345.4,317.7 1344.4,317.7 1343.4,317.7 1342.4,317.7 1341.4,317.7 1340.4,317.7 1339.4,317.7 1338.4,317.7 1337.4,317.7 1336.4,317.7 1335.4,317.7 1334.4,317.7 1333.4,317.2 1332.4,317.2 1331.4,317.2 1330.4,317.2 1329.4,317.2 1328.4,317.2 1327.4,317.2 1326.4,317.2 1325.4,317.2 1324.4,317.2 1323.4,317.2 1322.4,316.9 1321.4,316.9 1320.4,316.9 1319.4,316.9 1318.4,317 1317.4,317.3 1316.4,317.3 1315.4,317.3 1314.4,317.3 1313.4,317.3 1312.4,317.3 1311.4,317.3 1310.4,317.3 1309.4,317.3 1308.4,317.3 1307.4,317.3 1306.4,317.3 1305.4,317.3 1304.4,317.3 1303.4,317.2 1302.4,317.2 1301.4,317.2 1300.4,317.2 1299.4,317.2 1298.4,317.2 1297.4,317.2 1296.4,317.2 1295.4,317.2 1294.4,317 1293.4,317 1292.4,317 1291.4,317 1290.4,317 1289.4,317 1288.4,316.2 1287.4,316.2 1286.4,316.2 1285.4,316.2 1284.4,315.3 1283.4,316 1282.4,316 1281.4,316 1280.4,316 1279.4,316 1278.4,316 1277.4,316 1276.4,316 1275.4,316 1274.4,316 1273.4,316 1272.4,316 1271.4,316 1270.4,316 1269.4,316.1 1268.4,316.1 1267.4,316.1 1266.4,316.1 1265.4,316.1 1264.4,316.1 1263.4,316.1 1262.4,316.1 1261.4,316.1 1260.4,316.1 1259.4,316.1 1258.4,316.1 1257.4,316.1 1256.4,316.1 1255.4,316.1 1254.4,316.3 1253.4,316.3 1252.4,316.3 1251.4,316.3 1250.4,316.3 1249.4,316.3 1248.4,316.3 1247.4,316.3 1246.4,316.3 1245.4,316.3 1244.4,316.3 1243.4,316.3 1242.4,315.4 1241.4,315.4 1240.4,315.4 1239.4,315.2 1238.4,315.2 1237.4,315.2 1236.4,315.2 1235.4,315.2 1234.4,315.3 1233.4,315.3 1232.4,315.3 1231.4,315.3 1230.4,315.3 1229.4,315.3 1228.4,315.3 1227.4,315.3 1226.4,315.3 1225.4,315.3 1224.4,315.3 1223.4,315.3 1222.4,314.5 1221.4,314.5 1220.4,314.5 1219.4,314.5 1218.4,314.5 1217.4,314.5 1216.4,314.4 1215.4,314.4 1214.4,314.4 1213.4,314.1 1212.4,314.2 1211.4,314.2 1210.4,314.2 1209.4,314.2 1208.4,314.2 1207.4,314.2 1206.4,314.2 1205.4,314.2 1204.4,314.3 1203.4,314.3 1202.4,314.3 1201.4,314.3 1200.4,314.3 1199.4,314.3 1198.4,314.3 1197.4,314.3 1196.4,314.3 1195.4,314.3 1194.4,314.4 1193.4,314.4 1192.4,314.4 1191.4,314.4 1190.4,314.4 1189.4,314.4 1188.4,314.4 1187.4,314.4 1186.4,314.4 1185.4,314.4 1184.4,314.4 1183.4,314.4 1182.4,314.1 1181.4,314.1 1180.4,314.1 1179.4,313.4 1178.4,313.4 1177.4,313.4 1176.4,313.4 1175.4,313.3 1174.4,313.3 1173.4,313.3 1172.4,313.2 1171.4,313.2 1170.4,313.2 1169.4,313.2 1168.4,313.2 1167.4,313.2 1166.4,313.2 1165.4,313.2 1164.4,313.2 1163.4,313.2 1162.4,313.2 1161.4,313.2 1160.4,313.2 1159.4,313.2 1158.4,313.2 1157.4,313.2 1156.4,313.2 1155.4,312.9 1154.4,312.9 1153.4,312.9 1152.4,312.9 1151.4,312.9 1150.4,312.9 1149.4,312.9 1148.4,312.9 1147.4,312.7 1146.4,312.7 1145.4,312.7 1144.4,312.7 1143.4,312.7 1142.4,312.7 1141.4,312.7 1140.4,312.3 1139.4,312.3 1138.4,311.9 1137.4,311.9 1136.4,311.9 1135.4,311.2 1134.4,311 1133.4,310.8 1132.4,310.8 1131.4,310.7 1130.4,310.7 1129.4,310.7 1128.4,310.6 1127.4,310.6 1126.4,310.6 1125.4,310.6 1124.4,310.6 1123.4,310.6 1122.4,310.6 1121.4,310.6 1120.4,310.6 1119.4,310.6 1118.4,310.6 1117.4,310.6 1116.4,310.6 1115.4,310.6 1114.4,310.4 1113.4,310.4 1112.4,310.4 1111.4,310.4 1110.4,310.4 1109.4,310.4 1108.4,310.4 1107.4,310.4 1106.4,310.3 1105.4,310.3 1104.4,310.3 1103.4,310.2 1102.4,310.2 1101.4,310.2 1100.4,310 1099.4,310 1098.4,310 1097.4,310 1096.4,309.2 1095.4,309.2 1094.4,308.7 1093.4,308.7 1092.4,308.8 1091.4,308.8 1090.4,308.8 1089.4,308.8 1088.4,308.8 1087.4,308.8 1086.4,308.8 1085.4,308.8 1084.4,308.8 1083.4,308.8 1082.4,308.8 1081.4,308.8 1080.4,308.4 1079.4,308.5 1078.4,308.5 1077.4,308.5 1076.4,308.5 1075.4,308.5 1074.4,308.5 1073.4,308.5 1072.4,308.5 1071.4,308.5 1070.4,308.5 1069.4,308.5 1068.4,308.5 1067.4,308.3 1066.4,308.3 1065.4,308 1064.4,308 1063.4,308 1062.4,308 1061.4,308 1060.4,308 1059.4,308 1058.4,308 1057.4,308 1056.4,308 1055.4,307.9 1054.4,307.9 1053.4,307.1 1052.4,306.8 1051.4,306.3 1050.4,306.3 1049.4,306.1 1048.4,306.1 1047.4,306.1 1046.4,304.8 1045.4,304.8 1044.4,304.8 1043.4,304.8 1042.4,304.8 1041.4,304.6 1040.4,304.6 1039.4,304.6 1038.4,304.6 1037.4,304.6 1036.4,304.6 1035.4,304.6 1034.4,304.2 1033.4,304.2 1032.4,303.9 1031.4,303.9 1030.4,303.9 1029.4,302.9 1028.4,302.8 1027.4,302.8 1026.4,302.8 1025.4,302.8 1024.4,302.8 1023.4,302.4 1022.4,302 1021.4,301.7 1020.4,300.8 1019.4,300.7 1018.4,299.2 1017.4,298.9 1016.4,298.9 1015.4,297.5 1014.4,296.6 1013.4,296.6 1012.4,296.6 1011.4,296.2 1010.4,296.2 1009.4,296.2 1008.4,295.5 1007.4,295.5 1006.4,295.4 1005.4,294.7 1004.4,294.7 1003.4,294 1002.4,294 1001.4,294 1000.4,294 999.4,292.8 998.4,293.2 997.4,293.2 996.4,293.2 995.4,293.5 994.4,293.5 993.4,293.5 992.4,293.5 991.4,293.5 990.4,293.5 989.4,293.5 988.4,293.5 987.4,293.5 986.4,293.5 985.4,293.5 984.4,293.5" fill="#00f"/>
</g>
<rect x="994.3" y="391.6" width="11.6" height="11.6" fill="#000"/>
<rect x="994.3" y="435.4" width="11.6" height="11.6" fill="#f00"/>
<rect x="994.3" y="479" width="11.6" height="11.6" fill="#0f0"/>
<rect x="994.3" y="522.7" width="11.6" height="11.6" fill="#00f"/>
<text x="1042.3" y="407.6" font-size="35" text-anchor="start" >ST10</text>
<text x="1042.3" y="451.3" font-size="35" text-anchor="start" >ST26</text>
<text x="1042.3" y="495.1" font-size="35" text-anchor="start" >t-ST26-ST10</text>
<text x="1042.3" y="539.1" font-size="35" text-anchor="start" >r-ST26-ST10</text>
<text x="1437.5" y="411.4" font-size="35">E<tspan font-size="21" dy="15">a</tspan><tspan dy="-15" dx="-0.8">= 0.125eV</tspan></text>
<text x="1437.5" y="453.9" font-size="35">E<tspan font-size="21" dy="15">a</tspan><tspan dy="-15" dx="-0.8">= 0.598eV</tspan></text>
<text x="1437.5" y="497.2" font-size="35">E<tspan font-size="21" dy="15">a</tspan><tspan dy="-15" dx="-0.8">= 0.510eV</tspan></text>
<text x="1439.7" y="541.1" font-size="35">E<tspan font-size="21" dy="15">a</tspan><tspan dy="-15" dx="-0.8">= 0.470eV</tspan></text>
<text x="1007.6" y="602.6" font-size="41" text-anchor="middle" >1.0</text>
<text x="1110.1" y="602.6" font-size="41" text-anchor="middle" >1.5</text>
<text x="1212.6" y="602.6" font-size="41" text-anchor="middle" >2.0</text>
<text x="1315.1" y="602.6" font-size="41" text-anchor="middle" >2.5</text>
<text x="1417.6" y="602.6" font-size="41" text-anchor="middle" >3.0</text>
<text x="1520.1" y="602.6" font-size="41" text-anchor="middle" >3.5</text>
<text x="1622.6" y="602.6" font-size="41" text-anchor="middle" >4.0</text>
<text x="949.8" y="566.9" font-size="41" text-anchor="end" >-20</text>
<text x="949.8" y="478.6" font-size="41" text-anchor="end" >-10</text>
<text x="949.8" y="390.3" font-size="41" text-anchor="end" >0</text>
<text x="949.8" y="301.9" font-size="41" text-anchor="end" >10</text>
<text x="949.8" y="213.6" font-size="41" text-anchor="end" >20</text>
<text x="949.8" y="125.3" font-size="41" text-anchor="end" >30</text>
<text x="949.8" y="37" font-size="41" text-anchor="end" >40</text>
<text x="1177" y="657.6" font-size="54.3" text-anchor="start" >Time (ms)</text>
<text x="806" y="42.1" font-size="55" text-anchor="start" >(b)</text>
<text transform="translate(887.6,575.3) rotate(-90) scale(0.968,1)" font-size="55.3">Polarization</text>
<text transform="translate(887.6,282.9) rotate(-90) scale(1.0,1)" font-size="42.3">(</text>
<text transform="translate(887.2,267.3) rotate(-90)" font-size="47" style="font-weight:normal">µ</text>
<text transform="translate(887.6,240) rotate(-90) scale(0.918,1)" font-size="55.3">C/cm</text>
<text transform="translate(875.3,118.6) rotate(-90) scale(0.95,1)" font-size="56.5">2</text>
<text transform="translate(887.8,93.5) rotate(-90) scale(1.0,1)" font-size="42.0">)</text>
</svg></body></html>
